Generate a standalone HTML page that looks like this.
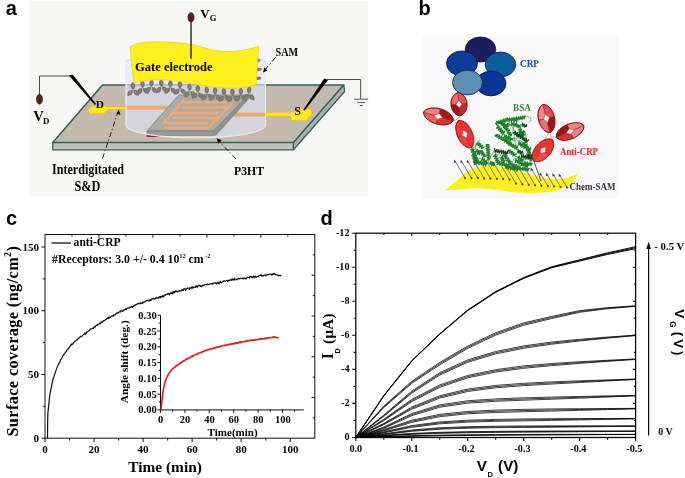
<!DOCTYPE html><html><head><meta charset="utf-8"><title>Figure</title>
<style>html,body{margin:0;padding:0;background:#fff}svg{display:block}</style></head><body>
<svg width="685" height="478" viewBox="0 0 685 478">
<defs><filter id="bl" x="-5%" y="-5%" width="110%" height="110%"><feGaussianBlur stdDeviation="0.45"/></filter><filter id="bl2" x="-5%" y="-5%" width="110%" height="110%"><feGaussianBlur stdDeviation="0.3"/></filter></defs>
<rect width="685" height="478" fill="#fff"/>
<text x="5.8" y="14.8" font-family="Liberation Sans, DejaVu Sans, sans-serif" font-weight="bold" font-size="20">a</text>
<text x="418.5" y="15.1" font-family="Liberation Sans, DejaVu Sans, sans-serif" font-weight="bold" font-size="20">b</text>
<text x="6" y="225" font-family="Liberation Sans, DejaVu Sans, sans-serif" font-weight="bold" font-size="20">c</text>
<text x="320.6" y="225.1" font-family="Liberation Sans, DejaVu Sans, sans-serif" font-weight="bold" font-size="20">d</text>
<g id="panelA">
<rect x="29.5" y="1" width="338.5" height="195.5" fill="#f7f7f5"/>
<g filter="url(#bl)">
<polygon points="102.5,85 343.8,85 293.5,142.6 52.8,142.6" fill="#c4b9ad" stroke="#33615a" stroke-width="1.5" stroke-linejoin="round"/>
<polygon points="52.8,142.6 293.5,142.6 293.5,149.8 52.8,149.8" fill="#c3c1bc" stroke="#33615a" stroke-width="1.3" stroke-linejoin="round"/>
<polygon points="293.5,142.6 343.8,85 344.6,91.5 293.5,149.8" fill="#aeaeaa" stroke="#33615a" stroke-width="1.3" stroke-linejoin="round"/>
<path d="M87.5,110.3 L91.5,106 L106,106 L106.3,106.6 L126,106.6 L126,109.6 L108,109.6 L104.5,113.8 L89,113.8 Z" fill="#ffea1a" stroke="#f3b050" stroke-width="1.1" stroke-linejoin="round"/>
<path d="M265.5,112.3 L291,112.3 L301.5,108.6 L311.2,108.6 L312.2,114 L306.5,120.8 L291,120.8 L290.5,116.3 L265.5,116.3 Z" fill="#ffea1a" stroke="#f3b050" stroke-width="1.1" stroke-linejoin="round"/>
<clipPath id="subclip"><polygon points="102.5,85 343.8,85 293.5,142.6 52.8,142.6"/></clipPath>
<path d="M126,62 L126,125 A69.7,13 0 0 0 265.5,125 L265.5,62 A69.7,9 0 0 0 126,62 Z" fill="#dfe6f2" fill-opacity="0.55"/>
<path clip-path="url(#subclip)" d="M126,62 L126,125 A69.7,13 0 0 0 265.5,125 L265.5,62 A69.7,9 0 0 0 126,62 Z" fill="#d4dae5" fill-opacity="0.5"/>
<rect x="126" y="105.7" width="42" height="3.9" fill="#f2a678"/>
<rect x="232" y="112.6" width="33.5" height="3.9" fill="#f2a678"/>
<polygon points="147,131 213.5,131 248.4,95 178.9,95" fill="#b0aaa3" stroke="#808783" stroke-width="0.9"/>
<polygon points="147,131 213.5,131 213.5,135.4 147,135.4" fill="#999d98" stroke="#7c847f" stroke-width="0.8"/>
<polygon points="213.5,131 248.4,95 250.9,96.5 215.8,135.4 213.5,135.4" fill="#8d938e" stroke="#7c847f" stroke-width="0.5"/>
<line x1="146.5" y1="136.2" x2="158" y2="136.4" stroke="#7a1028" stroke-width="1.3"/>
<path d="M181.9,102.3 L227.3,102.3 M183.2,107.6 L228.2,107.6 M172.4,113 L217,113 M174,118 L218.1,118 M163.6,123 L207.3,123 M165.2,128 L208.4,128 M163.6,123 L183.9,100 M208.4,128 L231.2,104.5" fill="none" stroke="#f3a870" stroke-width="2.4" stroke-linecap="round" opacity="0.92"/>
<path d="M126,62 L126,125 A69.7,13 0 0 0 265.5,125 L265.5,62" fill="none" stroke="#e6ebf3" stroke-width="1.2"/>
<path d="M126,62 A69.7,9 0 0 1 265.5,62" fill="none" stroke="#c5cedb" stroke-width="0.8"/>
<g transform="translate(132.8,82) rotate(-1.8) scale(1.0)"><g transform="translate(0,3.9) rotate(0)"><path d="M0,-4.1 Q4.7,0 0,4.1 Q-4.7,0 0,-4.1 Z" fill="#727977"/><path d="M0,-2.05 Q2,0 0,2.05 Q-2,0 0,-2.05 Z" fill="#b07552"/></g><g transform="translate(-3.1,10.8) rotate(42)"><path d="M0,-4.1 Q4.7,0 0,4.1 Q-4.7,0 0,-4.1 Z" fill="#727977"/><path d="M0,-2.05 Q2,0 0,2.05 Q-2,0 0,-2.05 Z" fill="#b07552"/></g><g transform="translate(3.1,10.8) rotate(-42)"><path d="M0,-4.1 Q4.7,0 0,4.1 Q-4.7,0 0,-4.1 Z" fill="#727977"/><path d="M0,-2.05 Q2,0 0,2.05 Q-2,0 0,-2.05 Z" fill="#b07552"/></g></g>
<g transform="translate(142.2,80.22) rotate(-3.5) scale(1.0)"><g transform="translate(0,3.9) rotate(0)"><path d="M0,-4.1 Q4.7,0 0,4.1 Q-4.7,0 0,-4.1 Z" fill="#727977"/><path d="M0,-2.05 Q2,0 0,2.05 Q-2,0 0,-2.05 Z" fill="#b07552"/></g><g transform="translate(-3.1,10.8) rotate(42)"><path d="M0,-4.1 Q4.7,0 0,4.1 Q-4.7,0 0,-4.1 Z" fill="#727977"/><path d="M0,-2.05 Q2,0 0,2.05 Q-2,0 0,-2.05 Z" fill="#b07552"/></g><g transform="translate(3.1,10.8) rotate(-42)"><path d="M0,-4.1 Q4.7,0 0,4.1 Q-4.7,0 0,-4.1 Z" fill="#727977"/><path d="M0,-2.05 Q2,0 0,2.05 Q-2,0 0,-2.05 Z" fill="#b07552"/></g></g>
<g transform="translate(151.6,79.12) rotate(1.5) scale(1.0)"><g transform="translate(0,3.9) rotate(0)"><path d="M0,-4.1 Q4.7,0 0,4.1 Q-4.7,0 0,-4.1 Z" fill="#727977"/><path d="M0,-2.05 Q2,0 0,2.05 Q-2,0 0,-2.05 Z" fill="#b07552"/></g><g transform="translate(-3.1,10.8) rotate(42)"><path d="M0,-4.1 Q4.7,0 0,4.1 Q-4.7,0 0,-4.1 Z" fill="#727977"/><path d="M0,-2.05 Q2,0 0,2.05 Q-2,0 0,-2.05 Z" fill="#b07552"/></g><g transform="translate(3.1,10.8) rotate(-42)"><path d="M0,-4.1 Q4.7,0 0,4.1 Q-4.7,0 0,-4.1 Z" fill="#727977"/><path d="M0,-2.05 Q2,0 0,2.05 Q-2,0 0,-2.05 Z" fill="#b07552"/></g></g>
<g transform="translate(161,78.9) rotate(-4.3) scale(1.0)"><g transform="translate(0,3.9) rotate(0)"><path d="M0,-4.1 Q4.7,0 0,4.1 Q-4.7,0 0,-4.1 Z" fill="#727977"/><path d="M0,-2.05 Q2,0 0,2.05 Q-2,0 0,-2.05 Z" fill="#b07552"/></g><g transform="translate(-3.1,10.8) rotate(42)"><path d="M0,-4.1 Q4.7,0 0,4.1 Q-4.7,0 0,-4.1 Z" fill="#727977"/><path d="M0,-2.05 Q2,0 0,2.05 Q-2,0 0,-2.05 Z" fill="#b07552"/></g><g transform="translate(3.1,10.8) rotate(-42)"><path d="M0,-4.1 Q4.7,0 0,4.1 Q-4.7,0 0,-4.1 Z" fill="#727977"/><path d="M0,-2.05 Q2,0 0,2.05 Q-2,0 0,-2.05 Z" fill="#b07552"/></g></g>
<g transform="translate(170.4,79.84) rotate(0.4) scale(1.0)"><g transform="translate(0,3.9) rotate(0)"><path d="M0,-4.1 Q4.7,0 0,4.1 Q-4.7,0 0,-4.1 Z" fill="#727977"/><path d="M0,-2.05 Q2,0 0,2.05 Q-2,0 0,-2.05 Z" fill="#b07552"/></g><g transform="translate(-3.1,10.8) rotate(42)"><path d="M0,-4.1 Q4.7,0 0,4.1 Q-4.7,0 0,-4.1 Z" fill="#727977"/><path d="M0,-2.05 Q2,0 0,2.05 Q-2,0 0,-2.05 Z" fill="#b07552"/></g><g transform="translate(3.1,10.8) rotate(-42)"><path d="M0,-4.1 Q4.7,0 0,4.1 Q-4.7,0 0,-4.1 Z" fill="#727977"/><path d="M0,-2.05 Q2,0 0,2.05 Q-2,0 0,-2.05 Z" fill="#b07552"/></g></g>
<g transform="translate(179.8,80.78) rotate(-1.3) scale(1.0)"><g transform="translate(0,3.9) rotate(0)"><path d="M0,-4.1 Q4.7,0 0,4.1 Q-4.7,0 0,-4.1 Z" fill="#727977"/><path d="M0,-2.05 Q2,0 0,2.05 Q-2,0 0,-2.05 Z" fill="#b07552"/></g><g transform="translate(-3.1,10.8) rotate(42)"><path d="M0,-4.1 Q4.7,0 0,4.1 Q-4.7,0 0,-4.1 Z" fill="#727977"/><path d="M0,-2.05 Q2,0 0,2.05 Q-2,0 0,-2.05 Z" fill="#b07552"/></g><g transform="translate(3.1,10.8) rotate(-42)"><path d="M0,-4.1 Q4.7,0 0,4.1 Q-4.7,0 0,-4.1 Z" fill="#727977"/><path d="M0,-2.05 Q2,0 0,2.05 Q-2,0 0,-2.05 Z" fill="#b07552"/></g></g>
<g transform="translate(189.2,83.24) rotate(-4.4) scale(1.0)"><g transform="translate(0,3.9) rotate(0)"><path d="M0,-4.1 Q4.7,0 0,4.1 Q-4.7,0 0,-4.1 Z" fill="#727977"/><path d="M0,-2.05 Q2,0 0,2.05 Q-2,0 0,-2.05 Z" fill="#b07552"/></g><g transform="translate(-3.1,10.8) rotate(42)"><path d="M0,-4.1 Q4.7,0 0,4.1 Q-4.7,0 0,-4.1 Z" fill="#727977"/><path d="M0,-2.05 Q2,0 0,2.05 Q-2,0 0,-2.05 Z" fill="#b07552"/></g><g transform="translate(3.1,10.8) rotate(-42)"><path d="M0,-4.1 Q4.7,0 0,4.1 Q-4.7,0 0,-4.1 Z" fill="#727977"/><path d="M0,-2.05 Q2,0 0,2.05 Q-2,0 0,-2.05 Z" fill="#b07552"/></g></g>
<g transform="translate(197.8,84.74) rotate(0.1) scale(1.0)"><g transform="translate(0,3.9) rotate(0)"><path d="M0,-4.1 Q4.7,0 0,4.1 Q-4.7,0 0,-4.1 Z" fill="#727977"/><path d="M0,-2.05 Q2,0 0,2.05 Q-2,0 0,-2.05 Z" fill="#b07552"/></g><g transform="translate(-3.1,10.8) rotate(42)"><path d="M0,-4.1 Q4.7,0 0,4.1 Q-4.7,0 0,-4.1 Z" fill="#727977"/><path d="M0,-2.05 Q2,0 0,2.05 Q-2,0 0,-2.05 Z" fill="#b07552"/></g><g transform="translate(3.1,10.8) rotate(-42)"><path d="M0,-4.1 Q4.7,0 0,4.1 Q-4.7,0 0,-4.1 Z" fill="#727977"/><path d="M0,-2.05 Q2,0 0,2.05 Q-2,0 0,-2.05 Z" fill="#b07552"/></g></g>
<g transform="translate(206.4,86.12) rotate(-4.6) scale(1.0)"><g transform="translate(0,3.9) rotate(0)"><path d="M0,-4.1 Q4.7,0 0,4.1 Q-4.7,0 0,-4.1 Z" fill="#727977"/><path d="M0,-2.05 Q2,0 0,2.05 Q-2,0 0,-2.05 Z" fill="#b07552"/></g><g transform="translate(-3.1,10.8) rotate(42)"><path d="M0,-4.1 Q4.7,0 0,4.1 Q-4.7,0 0,-4.1 Z" fill="#727977"/><path d="M0,-2.05 Q2,0 0,2.05 Q-2,0 0,-2.05 Z" fill="#b07552"/></g><g transform="translate(3.1,10.8) rotate(-42)"><path d="M0,-4.1 Q4.7,0 0,4.1 Q-4.7,0 0,-4.1 Z" fill="#727977"/><path d="M0,-2.05 Q2,0 0,2.05 Q-2,0 0,-2.05 Z" fill="#b07552"/></g></g>
<g transform="translate(215,86.88) rotate(-0.7) scale(1.0)"><g transform="translate(0,3.9) rotate(0)"><path d="M0,-4.1 Q4.7,0 0,4.1 Q-4.7,0 0,-4.1 Z" fill="#727977"/><path d="M0,-2.05 Q2,0 0,2.05 Q-2,0 0,-2.05 Z" fill="#b07552"/></g><g transform="translate(-3.1,10.8) rotate(42)"><path d="M0,-4.1 Q4.7,0 0,4.1 Q-4.7,0 0,-4.1 Z" fill="#727977"/><path d="M0,-2.05 Q2,0 0,2.05 Q-2,0 0,-2.05 Z" fill="#b07552"/></g><g transform="translate(3.1,10.8) rotate(-42)"><path d="M0,-4.1 Q4.7,0 0,4.1 Q-4.7,0 0,-4.1 Z" fill="#727977"/><path d="M0,-2.05 Q2,0 0,2.05 Q-2,0 0,-2.05 Z" fill="#b07552"/></g></g>
<g transform="translate(223.6,87.64) rotate(-4.3) scale(1.0)"><g transform="translate(0,3.9) rotate(0)"><path d="M0,-4.1 Q4.7,0 0,4.1 Q-4.7,0 0,-4.1 Z" fill="#727977"/><path d="M0,-2.05 Q2,0 0,2.05 Q-2,0 0,-2.05 Z" fill="#b07552"/></g><g transform="translate(-3.1,10.8) rotate(42)"><path d="M0,-4.1 Q4.7,0 0,4.1 Q-4.7,0 0,-4.1 Z" fill="#727977"/><path d="M0,-2.05 Q2,0 0,2.05 Q-2,0 0,-2.05 Z" fill="#b07552"/></g><g transform="translate(3.1,10.8) rotate(-42)"><path d="M0,-4.1 Q4.7,0 0,4.1 Q-4.7,0 0,-4.1 Z" fill="#727977"/><path d="M0,-2.05 Q2,0 0,2.05 Q-2,0 0,-2.05 Z" fill="#b07552"/></g></g>
<g transform="translate(232.2,88.05) rotate(-4.1) scale(1.0)"><g transform="translate(0,3.9) rotate(0)"><path d="M0,-4.1 Q4.7,0 0,4.1 Q-4.7,0 0,-4.1 Z" fill="#727977"/><path d="M0,-2.05 Q2,0 0,2.05 Q-2,0 0,-2.05 Z" fill="#b07552"/></g><g transform="translate(-3.1,10.8) rotate(42)"><path d="M0,-4.1 Q4.7,0 0,4.1 Q-4.7,0 0,-4.1 Z" fill="#727977"/><path d="M0,-2.05 Q2,0 0,2.05 Q-2,0 0,-2.05 Z" fill="#b07552"/></g><g transform="translate(3.1,10.8) rotate(-42)"><path d="M0,-4.1 Q4.7,0 0,4.1 Q-4.7,0 0,-4.1 Z" fill="#727977"/><path d="M0,-2.05 Q2,0 0,2.05 Q-2,0 0,-2.05 Z" fill="#b07552"/></g></g>
<g transform="translate(240.8,87.48) rotate(-0.8) scale(1.0)"><g transform="translate(0,3.9) rotate(0)"><path d="M0,-4.1 Q4.7,0 0,4.1 Q-4.7,0 0,-4.1 Z" fill="#727977"/><path d="M0,-2.05 Q2,0 0,2.05 Q-2,0 0,-2.05 Z" fill="#b07552"/></g><g transform="translate(-3.1,10.8) rotate(42)"><path d="M0,-4.1 Q4.7,0 0,4.1 Q-4.7,0 0,-4.1 Z" fill="#727977"/><path d="M0,-2.05 Q2,0 0,2.05 Q-2,0 0,-2.05 Z" fill="#b07552"/></g><g transform="translate(3.1,10.8) rotate(-42)"><path d="M0,-4.1 Q4.7,0 0,4.1 Q-4.7,0 0,-4.1 Z" fill="#727977"/><path d="M0,-2.05 Q2,0 0,2.05 Q-2,0 0,-2.05 Z" fill="#b07552"/></g></g>
<g transform="translate(249.4,86.32) rotate(3.3) scale(1.0)"><g transform="translate(0,3.9) rotate(0)"><path d="M0,-4.1 Q4.7,0 0,4.1 Q-4.7,0 0,-4.1 Z" fill="#727977"/><path d="M0,-2.05 Q2,0 0,2.05 Q-2,0 0,-2.05 Z" fill="#b07552"/></g><g transform="translate(-3.1,10.8) rotate(42)"><path d="M0,-4.1 Q4.7,0 0,4.1 Q-4.7,0 0,-4.1 Z" fill="#727977"/><path d="M0,-2.05 Q2,0 0,2.05 Q-2,0 0,-2.05 Z" fill="#b07552"/></g><g transform="translate(3.1,10.8) rotate(-42)"><path d="M0,-4.1 Q4.7,0 0,4.1 Q-4.7,0 0,-4.1 Z" fill="#727977"/><path d="M0,-2.05 Q2,0 0,2.05 Q-2,0 0,-2.05 Z" fill="#b07552"/></g></g>
<g transform="translate(260.5,60) rotate(75) scale(0.75)"><g transform="translate(0,3.9) rotate(0)"><path d="M0,-4.1 Q4.7,0 0,4.1 Q-4.7,0 0,-4.1 Z" fill="#727977"/><path d="M0,-2.05 Q2,0 0,2.05 Q-2,0 0,-2.05 Z" fill="#b07552"/></g><g transform="translate(-3.1,10.8) rotate(42)"><path d="M0,-4.1 Q4.7,0 0,4.1 Q-4.7,0 0,-4.1 Z" fill="#727977"/><path d="M0,-2.05 Q2,0 0,2.05 Q-2,0 0,-2.05 Z" fill="#b07552"/></g><g transform="translate(3.1,10.8) rotate(-42)"><path d="M0,-4.1 Q4.7,0 0,4.1 Q-4.7,0 0,-4.1 Z" fill="#727977"/><path d="M0,-2.05 Q2,0 0,2.05 Q-2,0 0,-2.05 Z" fill="#b07552"/></g></g>
<g transform="translate(262,69) rotate(80) scale(0.75)"><g transform="translate(0,3.9) rotate(0)"><path d="M0,-4.1 Q4.7,0 0,4.1 Q-4.7,0 0,-4.1 Z" fill="#727977"/><path d="M0,-2.05 Q2,0 0,2.05 Q-2,0 0,-2.05 Z" fill="#b07552"/></g><g transform="translate(-3.1,10.8) rotate(42)"><path d="M0,-4.1 Q4.7,0 0,4.1 Q-4.7,0 0,-4.1 Z" fill="#727977"/><path d="M0,-2.05 Q2,0 0,2.05 Q-2,0 0,-2.05 Z" fill="#b07552"/></g><g transform="translate(3.1,10.8) rotate(-42)"><path d="M0,-4.1 Q4.7,0 0,4.1 Q-4.7,0 0,-4.1 Z" fill="#727977"/><path d="M0,-2.05 Q2,0 0,2.05 Q-2,0 0,-2.05 Z" fill="#b07552"/></g></g>
<g transform="translate(261.5,78) rotate(85) scale(0.75)"><g transform="translate(0,3.9) rotate(0)"><path d="M0,-4.1 Q4.7,0 0,4.1 Q-4.7,0 0,-4.1 Z" fill="#727977"/><path d="M0,-2.05 Q2,0 0,2.05 Q-2,0 0,-2.05 Z" fill="#b07552"/></g><g transform="translate(-3.1,10.8) rotate(42)"><path d="M0,-4.1 Q4.7,0 0,4.1 Q-4.7,0 0,-4.1 Z" fill="#727977"/><path d="M0,-2.05 Q2,0 0,2.05 Q-2,0 0,-2.05 Z" fill="#b07552"/></g><g transform="translate(3.1,10.8) rotate(-42)"><path d="M0,-4.1 Q4.7,0 0,4.1 Q-4.7,0 0,-4.1 Z" fill="#727977"/><path d="M0,-2.05 Q2,0 0,2.05 Q-2,0 0,-2.05 Z" fill="#b07552"/></g></g>
<path d="M130,47 C136,43.5 142,42 150,42 C165,41.5 180,42.5 192,44.5 C205,47.5 212,50.6 222,51.4 C236,52 248,49.8 258.8,46.2 C257.7,58 256.9,72 256.2,84.5 C248,87.5 238,88.6 228,88.2 C212,87.5 198,85 185,82.5 C172,80 160,79.3 150,80.2 C143,80.9 138,82 134,83.2 C132.3,71 131,59 130,47 Z" fill="#fdf01c" stroke="#f0c820" stroke-width="0.7"/>
<line x1="191" y1="21" x2="191" y2="58.7" stroke="#151515" stroke-width="1.3"/>
<ellipse cx="191" cy="17.3" rx="3" ry="4.6" fill="#5a1f1a" stroke="#2a0d0a" stroke-width="0.6"/>
<path d="M39.5,95 L39.5,76 L70,76" fill="none" stroke="#4a4a4a" stroke-width="1"/>
<ellipse cx="39.5" cy="99.3" rx="3" ry="5" fill="#5a1f1a" stroke="#2a0d0a" stroke-width="0.6"/>
<polygon points="68.8,75.2 72.8,74.8 96,104 94.8,105" fill="#000"/>
<polygon points="324.2,78.6 328,80 304.6,110.8 303.2,110" fill="#000"/>
<path d="M326,79.5 L360.7,79.5 L360.7,99" fill="none" stroke="#4a4a4a" stroke-width="1"/>
<path d="M354,99.2 L368.3,99.2 M357.3,102.6 L365,102.6 M359.8,105.5 L362.8,105.5" fill="none" stroke="#4a5e5a" stroke-width="1"/>
<g fill="none" stroke="#222" stroke-width="1" stroke-dasharray="5.5 2.2 1.3 2.2">
<line x1="102.5" y1="158.5" x2="118" y2="112"/>
<line x1="236" y1="159" x2="218.5" y2="140.5"/>
<line x1="275.5" y1="57.5" x2="264.5" y2="70.5"/>
</g>
<g fill="#111">
<polygon points="118.8,109.5 120.5,115 116.3,113.6"/>
<polygon points="216.5,138.3 221.8,140.3 218.3,143.4"/>
<polygon points="263,72.5 264.3,67.6 267.6,70.6"/>
</g>
<text x="200.3" y="17.6" font-family="Liberation Serif, DejaVu Serif, serif" font-weight="bold" font-size="13">V</text><text x="209.8" y="21.2" font-family="Liberation Serif, DejaVu Serif, serif" font-weight="bold" font-size="8.5">G</text>
<text x="33.2" y="120.6" font-family="Liberation Serif, DejaVu Serif, serif" font-weight="bold" font-size="14.5">V</text><text x="43" y="124.2" font-family="Liberation Serif, DejaVu Serif, serif" font-weight="bold" font-size="8.8">D</text>
<text x="135" y="71.3" font-family="Liberation Serif, DejaVu Serif, serif" font-weight="bold" font-size="13" textLength="77.5" lengthAdjust="spacingAndGlyphs">Gate electrode</text>
<text x="275.5" y="55.7" font-family="Liberation Serif, DejaVu Serif, serif" font-weight="bold" font-size="11.5" textLength="22.5" lengthAdjust="spacingAndGlyphs">SAM</text>
<text x="95.8" y="108.3" font-family="Liberation Serif, DejaVu Serif, serif" font-weight="bold" font-size="11.3">D</text>
<text x="294.2" y="114.9" font-family="Liberation Serif, DejaVu Serif, serif" font-weight="bold" font-size="12">S</text>
<text x="52" y="174" font-family="Liberation Serif, DejaVu Serif, serif" font-weight="bold" font-size="13.6" textLength="72" lengthAdjust="spacingAndGlyphs">Interdigitated</text>
<text x="74.5" y="191" font-family="Liberation Serif, DejaVu Serif, serif" font-weight="bold" font-size="13.6" textLength="26" lengthAdjust="spacingAndGlyphs">S&amp;D</text>
<text x="234" y="175.4" font-family="Liberation Serif, DejaVu Serif, serif" font-weight="bold" font-size="12.8" textLength="30" lengthAdjust="spacingAndGlyphs">P3HT</text>
</g></g>
<g id="panelB">
<rect x="423" y="36" width="195.3" height="162" fill="#f8f8f8"/>
<g filter="url(#bl)">
<path d="M444.8,190.3 C450,186.5 454,183 457.6,180 C461,176.5 464.5,173.5 468.6,171 C473,168 478,166.6 483.2,166.2 C488,165.8 493,165.8 497.8,166.3 C505,167.2 512.5,169 519.8,171.2 C526,173 532,175 538.1,176.6 C543,177.9 548,179 552.8,179.3 C558,179.5 563,178.8 567.4,177.5 C571.5,176.4 575,175.2 578.4,173.6 C576.5,177.5 574,181 571,183.7 C568,186.3 564.5,188 560,189.4 C555.5,190.8 550.5,191.7 545.4,192.2 C539.5,192.8 533,193 527,192.9 C520.5,192.8 514,192.2 508,191.4 C502,190.6 496,189.6 490,189 C484,188.4 478,188.2 472,188.4 C466,188.7 460.5,189.3 455,189.8 C451.5,190.1 448,190.3 444.8,190.3 Z" fill="#fdee1e"/>
<line x1="465" y1="178" x2="455" y2="161" stroke="#5c5068" stroke-width="0.75"/>
<circle cx="465" cy="178" r="1.1" fill="#5a3c6a"/>
<polygon points="454.3,159.6 456.5,162.2 454,162.9" fill="#453a52"/>
<line x1="471.4" y1="178.1" x2="461.4" y2="161.1" stroke="#5c5068" stroke-width="0.75"/>
<circle cx="471.4" cy="178.1" r="1.1" fill="#5a3c6a"/>
<polygon points="460.7,159.7 462.9,162.3 460.4,163" fill="#453a52"/>
<line x1="477.8" y1="178.2" x2="467.8" y2="161.2" stroke="#5c5068" stroke-width="0.75"/>
<circle cx="477.8" cy="178.2" r="1.1" fill="#5a3c6a"/>
<polygon points="467.1,159.8 469.2,162.4 466.8,163.1" fill="#453a52"/>
<line x1="484.1" y1="178.4" x2="474.1" y2="161.4" stroke="#5c5068" stroke-width="0.75"/>
<circle cx="484.1" cy="178.4" r="1.1" fill="#5a3c6a"/>
<polygon points="473.4,160 475.6,162.6 473.1,163.3" fill="#453a52"/>
<line x1="490.5" y1="178.6" x2="480.5" y2="161.6" stroke="#5c5068" stroke-width="0.75"/>
<circle cx="490.5" cy="178.6" r="1.1" fill="#5a3c6a"/>
<polygon points="479.8,160.2 482,162.8 479.5,163.5" fill="#453a52"/>
<line x1="496.9" y1="178.9" x2="486.9" y2="161.9" stroke="#5c5068" stroke-width="0.75"/>
<circle cx="496.9" cy="178.9" r="1.1" fill="#5a3c6a"/>
<polygon points="486.2,160.5 488.4,163.1 485.9,163.8" fill="#453a52"/>
<line x1="503.2" y1="179.2" x2="493.2" y2="162.2" stroke="#5c5068" stroke-width="0.75"/>
<circle cx="503.2" cy="179.2" r="1.1" fill="#5a3c6a"/>
<polygon points="492.6,160.8 494.8,163.4 492.2,164.1" fill="#453a52"/>
<line x1="509.6" y1="179.7" x2="499.6" y2="162.7" stroke="#5c5068" stroke-width="0.75"/>
<circle cx="509.6" cy="179.7" r="1.1" fill="#5a3c6a"/>
<polygon points="498.9,161.3 501.1,163.9 498.6,164.6" fill="#453a52"/>
<line x1="516" y1="183.7" x2="506" y2="166.7" stroke="#5c5068" stroke-width="0.75"/>
<circle cx="516" cy="183.7" r="1.1" fill="#5a3c6a"/>
<polygon points="505.3,165.3 507.5,167.9 505,168.6" fill="#453a52"/>
<line x1="522.4" y1="184.3" x2="512.4" y2="167.3" stroke="#5c5068" stroke-width="0.75"/>
<circle cx="522.4" cy="184.3" r="1.1" fill="#5a3c6a"/>
<polygon points="511.7,165.9 513.9,168.5 511.4,169.2" fill="#453a52"/>
<line x1="528.8" y1="184.8" x2="518.8" y2="167.8" stroke="#5c5068" stroke-width="0.75"/>
<circle cx="528.8" cy="184.8" r="1.1" fill="#5a3c6a"/>
<polygon points="518,166.4 520.2,169 517.8,169.7" fill="#453a52"/>
<line x1="535.1" y1="185.3" x2="525.1" y2="168.3" stroke="#5c5068" stroke-width="0.75"/>
<circle cx="535.1" cy="185.3" r="1.1" fill="#5a3c6a"/>
<polygon points="524.4,166.9 526.6,169.5 524.1,170.2" fill="#453a52"/>
<line x1="541.5" y1="185.8" x2="531.5" y2="168.8" stroke="#5c5068" stroke-width="0.75"/>
<circle cx="541.5" cy="185.8" r="1.1" fill="#5a3c6a"/>
<polygon points="530.8,167.4 533,170 530.5,170.7" fill="#453a52"/>
<line x1="547.9" y1="186.2" x2="540.5" y2="173.7" stroke="#5c5068" stroke-width="0.75"/>
<circle cx="547.9" cy="186.2" r="1.1" fill="#5a3c6a"/>
<polygon points="539.8,172.3 542,174.9 539.5,175.6" fill="#453a52"/>
<line x1="554.2" y1="186.6" x2="546.9" y2="174.1" stroke="#5c5068" stroke-width="0.75"/>
<circle cx="554.2" cy="186.6" r="1.1" fill="#5a3c6a"/>
<polygon points="546.2,172.7 548.4,175.3 545.9,176" fill="#453a52"/>
<line x1="560.6" y1="187" x2="553.3" y2="174.5" stroke="#5c5068" stroke-width="0.75"/>
<circle cx="560.6" cy="187" r="1.1" fill="#5a3c6a"/>
<polygon points="552.6,173.1 554.8,175.7 552.3,176.4" fill="#453a52"/>
<line x1="567" y1="187.4" x2="559.6" y2="174.9" stroke="#5c5068" stroke-width="0.75"/>
<circle cx="567" cy="187.4" r="1.1" fill="#5a3c6a"/>
<polygon points="558.9,173.5 561.1,176.1 558.6,176.8" fill="#453a52"/>
<path d="M456.7,119.7 L453.3,120.6 M456.7,119.7 L460,115.8 M456.7,119.7 L458.5,120.6 M453.5,120.8 L457.5,124.5" stroke="#a9a0a0" stroke-width="0.7" fill="none"/>
<g transform="translate(459,104.2) rotate(-4.9)"><path d="M0,-11.69 C-5.33,-10.41 -8,-5.2 -8,0 L0,0 Z" fill="#e86a6a" stroke="#8a1414" stroke-width="0.45" stroke-linejoin="round"/><path d="M0,-11.69 C5.33,-10.41 8,-5.2 8,0 L0,0 Z" fill="#e25555" stroke="#8a1414" stroke-width="0.45" stroke-linejoin="round"/><path d="M0,11.69 C-5.33,10.41 -8,5.2 -8,0 L0,0 Z" fill="#9c1515" stroke="#8a1414" stroke-width="0.45" stroke-linejoin="round"/><path d="M0,11.69 C5.33,10.41 8,5.2 8,0 L0,0 Z" fill="#c42a2a" stroke="#8a1414" stroke-width="0.45" stroke-linejoin="round"/><path d="M0,-11.69 C10.67,-9.12 10.67,9.12 0,11.69 C-10.67,9.12 -10.67,-9.12 0,-11.69 Z" fill="none" stroke="#8a1414" stroke-width="0.9"/><polygon points="0,-3.51 3.2,0 0,3.51 -3.2,0" fill="#fdf3f3" stroke="#8a1414" stroke-width="0.4"/></g>
<g transform="translate(438.4,116.4) rotate(-74.3)"><path d="M0,-15.53 C-5.17,-13.82 -7.75,-6.91 -7.75,0 L0,0 Z" fill="#e86060" stroke="#8a1414" stroke-width="0.45" stroke-linejoin="round"/><path d="M0,-15.53 C5.17,-13.82 7.75,-6.91 7.75,0 L0,0 Z" fill="#f08080" stroke="#8a1414" stroke-width="0.45" stroke-linejoin="round"/><path d="M0,15.53 C-5.17,13.82 -7.75,6.91 -7.75,0 L0,0 Z" fill="#d83030" stroke="#8a1414" stroke-width="0.45" stroke-linejoin="round"/><path d="M0,15.53 C5.17,13.82 7.75,6.91 7.75,0 L0,0 Z" fill="#a81818" stroke="#8a1414" stroke-width="0.45" stroke-linejoin="round"/><path d="M0,-15.53 C10.33,-12.11 10.33,12.11 0,15.53 C-10.33,12.11 -10.33,-12.11 0,-15.53 Z" fill="none" stroke="#8a1414" stroke-width="0.9"/><polygon points="0,-4.66 3.1,0 0,4.66 -3.1,0" fill="#fdf3f3" stroke="#8a1414" stroke-width="0.4"/></g>
<g transform="translate(464.8,134.2) rotate(155.4)"><path d="M0,-15.01 C-5,-13.36 -7.5,-6.68 -7.5,0 L0,0 Z" fill="#ee3535" stroke="#b01818" stroke-width="0.45" stroke-linejoin="round"/><path d="M0,-15.01 C5,-13.36 7.5,-6.68 7.5,0 L0,0 Z" fill="#f03c3c" stroke="#b01818" stroke-width="0.45" stroke-linejoin="round"/><path d="M0,15.01 C-5,13.36 -7.5,6.68 -7.5,0 L0,0 Z" fill="#ec3030" stroke="#b01818" stroke-width="0.45" stroke-linejoin="round"/><path d="M0,15.01 C5,13.36 7.5,6.68 7.5,0 L0,0 Z" fill="#ee3838" stroke="#b01818" stroke-width="0.45" stroke-linejoin="round"/><path d="M0,-15.01 C10,-11.71 10,11.71 0,15.01 C-10,11.71 -10,-11.71 0,-15.01 Z" fill="none" stroke="#b01818" stroke-width="0.9"/><polygon points="0,-4.5 3,0 0,4.5 -3,0" fill="#fdf3f3" stroke="#b01818" stroke-width="0.4"/></g>
<path d="M550.9,136.6 L550.1,132.7 M550.9,136.6 L556.4,137.4 M550.9,136.6 L552.5,139.7 M549,132 L545,139.5" stroke="#a9a0a0" stroke-width="0.7" fill="none"/>
<g transform="translate(546.5,118.5) rotate(-14.1)"><path d="M0,-14.59 C-5.33,-12.98 -8,-6.49 -8,0 L0,0 Z" fill="#f08585" stroke="#8a1414" stroke-width="0.45" stroke-linejoin="round"/><path d="M0,-14.59 C5.33,-12.98 8,-6.49 8,0 L0,0 Z" fill="#e05050" stroke="#8a1414" stroke-width="0.45" stroke-linejoin="round"/><path d="M0,14.59 C-5.33,12.98 -8,6.49 -8,0 L0,0 Z" fill="#ea7070" stroke="#8a1414" stroke-width="0.45" stroke-linejoin="round"/><path d="M0,14.59 C5.33,12.98 8,6.49 8,0 L0,0 Z" fill="#9a1515" stroke="#8a1414" stroke-width="0.45" stroke-linejoin="round"/><path d="M0,-14.59 C10.67,-11.38 10.67,11.38 0,14.59 C-10.67,11.38 -10.67,-11.38 0,-14.59 Z" fill="none" stroke="#8a1414" stroke-width="0.9"/><polygon points="0,-4.38 3.2,0 0,4.38 -3.2,0" fill="#fdf3f3" stroke="#8a1414" stroke-width="0.4"/></g>
<g transform="translate(570.1,131.5) rotate(66.8)"><path d="M0,-14.96 C-5,-13.32 -7.5,-6.66 -7.5,0 L0,0 Z" fill="#f08888" stroke="#8a1414" stroke-width="0.45" stroke-linejoin="round"/><path d="M0,-14.96 C5,-13.32 7.5,-6.66 7.5,0 L0,0 Z" fill="#ee8080" stroke="#8a1414" stroke-width="0.45" stroke-linejoin="round"/><path d="M0,14.96 C-5,13.32 -7.5,6.66 -7.5,0 L0,0 Z" fill="#9a1515" stroke="#8a1414" stroke-width="0.45" stroke-linejoin="round"/><path d="M0,14.96 C5,13.32 7.5,6.66 7.5,0 L0,0 Z" fill="#d83030" stroke="#8a1414" stroke-width="0.45" stroke-linejoin="round"/><path d="M0,-14.96 C10,-11.67 10,11.67 0,14.96 C-10,11.67 -10,-11.67 0,-14.96 Z" fill="none" stroke="#8a1414" stroke-width="0.9"/><polygon points="0,-4.49 3,0 0,4.49 -3,0" fill="#fdf3f3" stroke="#8a1414" stroke-width="0.4"/></g>
<g transform="translate(543,150.3) rotate(-138.3)"><path d="M0,-14.2 C-5.17,-12.64 -7.75,-6.32 -7.75,0 L0,0 Z" fill="#f04848" stroke="#b01818" stroke-width="0.45" stroke-linejoin="round"/><path d="M0,-14.2 C5.17,-12.64 7.75,-6.32 7.75,0 L0,0 Z" fill="#ee3030" stroke="#b01818" stroke-width="0.45" stroke-linejoin="round"/><path d="M0,14.2 C-5.17,12.64 -7.75,6.32 -7.75,0 L0,0 Z" fill="#ee3535" stroke="#b01818" stroke-width="0.45" stroke-linejoin="round"/><path d="M0,14.2 C5.17,12.64 7.75,6.32 7.75,0 L0,0 Z" fill="#ec3030" stroke="#b01818" stroke-width="0.45" stroke-linejoin="round"/><path d="M0,-14.2 C10.33,-11.08 10.33,11.08 0,14.2 C-10.33,11.08 -10.33,-11.08 0,-14.2 Z" fill="none" stroke="#b01818" stroke-width="0.9"/><polygon points="0,-4.26 3.1,0 0,4.26 -3.1,0" fill="#fdf3f3" stroke="#b01818" stroke-width="0.4"/></g>
<line x1="533.8" y1="161" x2="541" y2="181" stroke="#4a3c56" stroke-width="0.9"/>
<ellipse cx="480.5" cy="49.5" rx="15.3" ry="12.6" fill="#1f1a60" stroke="#14144a" stroke-width="0.8"/>
<ellipse cx="462" cy="63.5" rx="15.5" ry="12.6" fill="#0c3c98" stroke="#14144a" stroke-width="0.8"/>
<ellipse cx="500.5" cy="64.5" rx="15.3" ry="12.4" fill="#0d5c9c" stroke="#14144a" stroke-width="0.8"/>
<ellipse cx="491" cy="83.5" rx="15" ry="12.4" fill="#0a3496" stroke="#14144a" stroke-width="0.8"/>
<ellipse cx="467.5" cy="82.5" rx="15" ry="12.4" fill="#5c8fb4" stroke="#14144a" stroke-width="0.8"/>
<path d="M508.3,119.2 Q504.5,116.8 508.3,119.9 M504.1,133.9 Q504.5,127.7 503.4,123.4 M511.1,136.1 Q515.9,125.2 511.1,123.4 M510.4,143.8 Q505.8,139.6 508.3,143.1 M518.1,148.7 Q514.1,143.4 513.9,131.8 M527.9,141.7 Q519.8,143.2 518.1,143.1 M477.4,161.3 Q473,149.2 477.4,143.1 M483,148 Q487.1,145.4 487.5,144.2 M488.9,160.2 Q479.9,161.9 474.6,162 M487.2,164.4 Q490.3,155.4 494.3,150.5 M508.3,153.2 Q504.4,155.9 494.5,154.6 M498.7,164.1 Q498.9,160.1 504.1,154.6 M511.1,164.1 Q505.2,167.3 498.7,163 M509.7,165.8 Q516,156.4 517.8,151.2 M522.6,153.2 Q526.5,150.7 520.9,156 M530.7,157.9 Q522.2,161.6 515.3,160.2 M527.9,166.9 Q522.3,164.8 523.7,163 M532.1,164.4 Q517,166.1 511.1,164.4 M509.7,123.4 Q515.1,130.7 516.7,136.1 M525.1,131.8 Q527.3,140.5 527.9,150.1 M504.1,125.5 Q508,124.7 512.5,120.6 M518.1,118.5 Q514.4,125.8 519.5,129 M523.7,136.1 Q515.4,141 504.1,136.1 M512.5,140.3 Q521.3,139.5 523.7,143.1 M480.2,154.3 Q472,153.9 473.2,154.3 M476,164.1 Q475.5,157.5 481.6,158.5 M485.8,162.7 Q483.5,165.4 490.1,162.7 M494.3,165.5 Q494.1,158.8 501.3,157.1 M504.1,162.7 Q505.1,160.1 508.3,150.1 M515.3,155.7 Q512.5,155.9 518.1,157.1 M523.7,161.3 Q525.6,162.3 526.5,155.7 M518.1,169.7 Q517.3,168.2 520.9,168.3 M525.8,117 q3,-1.5 5,1 q1,3 -2,5 M480,140 q-4,2 -6,8" fill="none" stroke="#3c8f48" stroke-width="0.7"/>
<path d="M495.6,123.2 L496.8,124.9 L496.7,122.8 L496.8,121.2 L498.2,123.4 L499,123.9 L498.7,121.2 L499.3,121 L500.7,123.3 L501,122.4 L500.8,119.9 L501.8,121.1 L503.1,122.9 L503,120.7 L503.1,119.1 L504.4,121.3 L505.2,121.8 L505,119.1 L505.5,118.9 L507,121.3 L507.3,120.4 L507.1,117.8 L508.1,119 M508.2,119.5 L509.2,121.6 L509.4,119.6 L509.8,117.9 L510.8,120.2 L511.5,121 L511.7,118.3 L512.2,118 L513.2,120.6 L513.8,119.9 L513.9,117.3 L514.7,118.5 L515.7,120.6 L516,118.6 L516.3,116.9 L517.3,119.1 L518,120 L518.2,117.3 L518.7,117 L519.8,119.5 L520.3,118.9 L520.5,116.3 L521.3,117.4 L522.2,119.5 L522.5,117.5 L522.8,115.8 L523.8,118.1 L524.5,118.9 L524.7,116.2 L525.3,115.9 M498,125.3 L498.2,126 L496.7,128.2 L497.9,127.9 L500,126.8 L499.1,128.4 L498.2,130.1 L500.2,129 L501.5,128.7 L500,130.8 L500.1,131.6 L502.5,130.2 L502.7,130.9 L501.1,133.1 L502.3,132.8 L504.4,131.7 L503.6,133.3 L502.6,135 M504.5,122.7 L504.5,123.4 L502.6,125.3 L503.9,125.2 L506.1,124.5 L504.9,126 L503.7,127.4 L506,126.7 L507.3,126.7 L505.3,128.6 L505.4,129.3 L508,128.3 L507.9,129.1 L506,130.9 L507.3,130.9 L509.6,130.2 L508.4,131.6 L507.2,133.1 L509.5,132.4 L510.7,132.3 L508.8,134.2 L508.8,134.9 L511.4,134 L511.4,134.7 L509.5,136.6 M511.5,122.2 L512,122.7 L511.7,125.3 L512.6,124.6 L513.9,122.6 L513.9,124.4 L513.9,126.3 L515.2,124.4 L516.2,123.5 L515.9,126.1 L516.3,126.8 L517.7,124.4 L518.2,124.9 L517.9,127.6 L518.8,126.8 L520.2,124.8 L520.2,126.6 L520.1,128.5 M495.3,135.2 L495.4,136.3 L497.3,134.3 L497.8,134.6 L496.9,137.2 L497.8,136.9 L499.6,135.1 L499.4,136.6 L498.8,138.7 L500.4,137.3 L501.7,136.3 L500.9,138.7 L501,139.7 L502.9,137.8 L503.4,138 L502.5,140.6 L503.4,140.4 L505.2,138.6 L505,140.1 L504.4,142.2 L506,140.8 L507.3,139.8 L506.5,142.2 L506.6,143.2 L508.5,141.3 L509.1,141.5 L508.1,144.1 L509,143.8 L510.8,142 M507.9,143.7 L509.7,141.9 L509.5,143.4 L509,145.5 L510.5,144 L511.7,143 L511,145.5 L511.2,146.5 L513,144.4 L513.6,144.7 L512.7,147.3 L513.6,147 L515.4,145.1 L515.2,146.7 L514.7,148.8 L516.2,147.3 L517.5,146.3 L516.8,148.8 L516.9,149.7 M519,141.5 L518.7,143.3 L518.3,145.2 L519.9,143.6 L521,142.8 L520.3,145.3 L520.6,146.1 L522.4,144 L522.8,144.5 L522,147.1 L523.1,146.5 L524.7,144.7 L524.4,146.5 L524,148.4 L525.6,146.8 L526.8,146 L526.1,148.5 L526.3,149.3 L528.2,147.2 L528.6,147.7 L527.8,150.3 L528.8,149.7 L530.5,147.9 L530.2,149.7 L529.8,151.6 M473.1,148.1 L470.8,149.8 L471.4,150.2 L474,149.7 L473.3,150.6 L471.4,152.1 L473.2,152 L475.2,151.8 L473.3,153.3 L472.5,154.3 L475.1,153.8 L475.8,154.1 L473.5,155.8 L474.1,156.2 L476.7,155.7 L476,156.7 L474.1,158.2 L475.9,158 L477.8,157.8 L476,159.3 L475.2,160.3 L477.8,159.8 L478.4,160.2 L476.2,161.8 M476.3,144.3 L478.4,142.8 L479.3,142.8 L477.9,145.2 L478.5,145.5 L480.7,143.9 L480.6,145 L479.4,147.2 L480.9,146.3 L482.7,145.3 L481.7,147.3 L481.3,148.7 L483.4,147.2 M486.1,144.3 L488.8,144.7 L488.7,145.3 L486.1,146.1 L487.1,146.6 L489.5,147 L488,147.8 L486.1,148.5 L488.3,148.9 L489.7,149.4 L487.2,150.2 L486.7,150.9 L489.4,151.2 L489.3,151.9 L486.7,152.7 L487.7,153.2 L490.1,153.6 L488.5,154.3 L486.7,155.1 L488.9,155.5 L490.3,156 L487.8,156.8 L487.2,157.5 L490,157.8 L489.9,158.4 L487.3,159.3 L488.3,159.8 M474.5,162.9 L474.9,163.5 L476,161 L476.6,161.3 L476.7,164 L477.5,163.2 L478.5,160.9 L478.8,162.7 L479,164.7 L480,162.6 L480.8,161.5 L480.9,164.1 L481.4,164.7 L482.5,162.2 L483.1,162.5 L483.2,165.2 L483.9,164.4 L485,162.2 L485.3,163.9 L485.5,165.9 L486.5,163.8 L487.3,162.7 M495.7,154 L495.7,154.7 L493.5,156.3 L494.7,156.4 L497.1,156 L495.8,157.3 L494.4,158.6 L496.6,158.2 L498,158.3 L495.9,159.9 L495.7,160.6 L498.4,160.1 L498.4,160.7 L496.2,162.4 L497.4,162.5 L499.8,162.1 L498.5,163.3 L497,164.6 M502.7,155.6 L505.1,154.5 L505.9,154.7 L504.1,156.8 L504.6,157.1 L507.1,156 L506.7,157.1 L505.1,159 L506.8,158.5 L508.7,157.9 L507.3,159.6 L506.6,160.9 L509.1,159.8 L509.8,160 L508,162.1 L508.6,162.4 L511,161.4 L510.6,162.4 L509.1,164.3 L510.8,163.8 M498.6,163.7 L499.8,161.5 L500,163 L500,165.2 L501.1,163.3 L502.1,162.1 L502,164.6 L502.4,165.5 L503.7,163 L504.3,163.2 L504.2,165.9 L505,165.3 L506.2,163.1 L506.4,164.7 L506.4,166.8 L507.5,165 L508.5,163.7 L508.4,166.3 L508.8,167.1 M516.1,158.6 L515.7,160.7 L515.5,162.3 L517.2,160.4 L518.1,160 L517.4,162.6 L517.9,162.9 L519.7,160.8 L519.9,161.8 L519.2,164.2 L520.5,163.2 L522,161.7 L521.5,163.8 L521.4,165.4 L523.1,163.5 L524,163.1 L523.2,165.7 L523.7,166 L525.5,163.9 L525.7,164.9 L525.1,167.3 L526.3,166.3 L527.8,164.8 L527.4,166.9 M523.6,163.6 L524,164.6 L525.1,162.1 L525.7,162.1 L525.8,164.8 L526.5,164.3 L527.5,161.9 L527.9,163.3 L528.2,165.5 L529.1,163.7 L529.9,162.2 L530.1,164.7 L530.6,165.7 L531.6,163.2 L532.2,163.1 M511.4,163.7 L512.2,163.3 L511.7,166 L512.3,166.1 L513.9,163.9 L514.1,164.9 L513.7,167.4 L514.9,166.2 L516.2,164.6 L515.9,166.8 L515.9,168.3 L517.5,166.3 L518.3,165.9 L517.8,168.6 L518.4,168.7 L520,166.5 L520.2,167.5 L519.8,170 M479.7,150.4 L479.3,151.5 L481.8,150.5 L482.3,150.8 L480.4,152.9 L481.2,153 L483.7,152.1 L483,153.3 L481.5,155 L483.4,154.4 L485.1,154 L483.5,155.8 L483.1,156.9 L485.6,155.9 L486.1,156.2 M504.7,128.4 L503.6,126 L504.7,126.5 L506.6,128 L506,126.2 L505.4,124.4 L507.2,125.9 L508.4,126.4 L507.3,124 L507.6,123.3 L509.7,125.1 L510,124.5 M516.1,134.8 L517.8,137 L518.2,136.4 L517.6,133.8 L518.6,134.5 L520.2,136.3 L519.9,134.5 L519.7,132.6 L521.2,134.3 L522.3,135.1 L521.6,132.5 L522,131.9 L523.7,134 L524.1,133.4 L523.5,130.8 L524.5,131.6 M526.3,150.7 L528.6,150.4 L529.9,150.6 L527.6,152.1 L527.5,152.8 L530.3,152.4 L530.1,153.1 L527.8,154.6 L529.2,154.7 L531.5,154.5 L530,155.7 L528.6,156.9 L531,156.6 L532.2,156.8 L529.9,158.3 L529.8,159 L532.6,158.6 L532.4,159.3 L530.2,160.8 L531.5,160.9 M500.9,120.3 L500.9,121.1 L499.5,123.4 L500.9,122.9 L502.8,121.8 L501.9,123.5 L501.2,125.1 L503.3,123.8 L504.4,123.6 L502.9,125.9 M512,119.3 L512.7,119.5 L514.2,121.7 L514.3,120.4 L514.1,118.1 L515.3,119.6 L516.5,121 L516.2,118.7 L516.4,117.4 L517.9,119.7 M518.3,129.8 L519,130 L521.5,129.2 L520.8,130.3 L519.2,132 L521.1,131.6 L522.9,131.2 L521.2,132.9 L520.6,134 L523.2,133.1 L523.7,133.5 L521.7,135.4 L522.4,135.7 L524.9,134.9 M504.7,134.8 L504,137.5 L504.7,137.5 L506.4,135.4 L506.5,136.7 L506,139 L507.3,137.7 L508.6,136.3 L508.2,138.6 L508.2,139.9 L509.9,137.9 L510.6,137.8 L509.9,140.5 L510.6,140.4 L512.3,138.4 L512.4,139.6 M522.9,143.7 L525.4,142.6 L524.9,143.7 L523.4,145.6 L525.1,145 L526.9,144.4 L525.5,146.2 L524.9,147.4 L527.3,146.3 L528.1,146.6 L526.2,148.7 L526.9,148.9 M477,149.1 L477.1,149.9 L475.7,152.1 L477,151.6 L479,150.5 L478.1,152.3 L477.3,153.9 L479.4,152.6 L480.5,152.4 L479.1,154.7 M474.8,153.8 L473.9,154.7 L471.8,155.9 L473.7,156 L475.6,156.1 L473.6,157.3 L472.6,158.2 L475.3,158.1 L475.9,158.5 L473.4,159.8 L473.9,160.3 L476.6,160.2 L475.7,161.1 L473.7,162.3 L475.5,162.4 L477.4,162.4 L475.4,163.6 L474.4,164.5 M482.7,157.5 L482.7,158.3 L481.3,160.5 L482.6,160 L484.6,158.9 L483.7,160.7 L482.9,162.3 L485,161 L486.1,160.8 L484.7,163.1 M490.9,161.5 L489.9,164.1 L490.4,164.3 L492.4,162.4 L492.4,163.5 L491.6,165.8 L493,164.8 L494.5,163.5 L493.8,165.7 M502,156.7 L502.9,157 L500.7,158.7 L501.1,159.2 L503.7,158.5 L503.2,159.5 L501.3,161.1 L503,160.9 L505,160.6 L503.4,162.1 L502.4,163.2 M508.6,149.7 L507.6,151.8 L509.3,150.8 L510.8,149.8 L509.8,152 L509.6,153.2 L511.7,151.5 L512.4,151.7 L511.2,154.2 L511.9,154.2 L514,152.5 L513.7,153.8 L512.8,156 L514.4,154.9 L516,153.9 M517.5,157.9 L519.6,156.1 L519.4,157.4 L518.5,159.6 L520,158.6 L521.6,157.5 L520.7,159.6 L520.5,160.9 L522.5,159.2 L523.2,159.2 L522.1,161.8 L522.8,161.8 M506.6,168.2 L507.8,165.7 L508.3,166.3 L508.2,169 L509.1,167.9 L510.2,165.9 L510.4,167.9 L510.5,169.6 L511.7,167.5 L512.5,166.7 L512.4,169.4 L513,169.8 L514.2,167.3 L514.7,167.9 L514.6,170.6 L515.5,169.5 L516.6,167.5 L516.8,169.5 L516.9,171.2 L518.1,169.1 M520.8,169 L521.2,169.9 L522.3,167.4 L522.9,167.4 L523,170.2 L523.7,169.6 L524.7,167.2 L525.1,168.7 L525.3,170.9 L526.3,169 L527.1,167.6 L527.3,170.1 L527.8,171 L528.8,168.5 L529.4,168.5" fill="none" stroke="#1d8029" stroke-width="1.3" stroke-linejoin="round" stroke-linecap="round"/>
<path d="M513.2,132.8 L513.7,133.2 L515.7,131.3 L515.8,132.2 L514.9,134.6 L516.2,133.8 L517.9,132.4 L517.2,134.4 L516.8,136 L518.7,134.4 L519.7,134 L518.6,136.6 L519.1,137 L521.1,135.1 L521.2,136 L520.3,138.4 L521.6,137.6 L523.3,136.2 L522.6,138.2 L522.2,139.8 L524.1,138.2 L525.1,137.8 L524.1,140.3 L524.5,140.8 L526.5,138.9 L526.6,139.8 L525.7,142.2 L527,141.4 L528.7,140 M522.6,123.1 L522.2,125.8 L522.6,126.2 L524.2,123.9 L524.6,124.7 L524.2,127.2 L525.2,126.3 L526.6,124.5 L526.4,126.5 M494.6,148.7 L494.8,150.9 L495.1,152.4 L496.2,150 L496.9,149.5 L497,152.3 L497.6,152.3 L498.7,149.8 L499.1,150.7 L499.2,153.2 L500.1,151.8 L501.1,150 L501.3,152.2 L501.6,153.6 L502.7,151.3 L503.4,150.7 L503.5,153.5 L504.1,153.5 L505.2,151 L505.6,151.9 L505.7,154.4 L506.6,153 L507.6,151.2 L507.8,153.4 M518.4,149.7 L518,152.4 L518.4,152.8 L520,150.6 L520.4,151.3 L520,153.9 L521,152.9 L522.4,151.1 L522.2,153.1 M521.3,154.2 L521.5,156.1 L521.7,158 L522.8,155.9 L523.6,154.8 L523.7,157.5 L524.2,158 L525.3,155.5 L525.8,155.9 L525.9,158.6 L526.7,157.7 L527.7,155.5 L528,157.3 L528.2,159.2 L529.2,157.1 L530.1,156.1 L530.1,158.8 M526.9,154.1 L527.2,155.4 L527.2,157.7 L528.3,156.1 L529.3,154.5 L529.3,156.9 L529.6,158.1 L530.8,155.7 L531.5,155.6 L531.4,158.3" fill="none" stroke="#153f1f" stroke-width="1.2" stroke-linejoin="round" stroke-linecap="round"/>
<text x="520" y="67" font-family="Liberation Serif, DejaVu Serif, serif" font-weight="bold" font-size="9.5" fill="#1d4a8c" textLength="19" lengthAdjust="spacingAndGlyphs">CRP</text>
<text x="513" y="110.6" font-family="Liberation Serif, DejaVu Serif, serif" font-weight="bold" font-size="9.5" fill="#2f8f35" textLength="18" lengthAdjust="spacingAndGlyphs">BSA</text>
<text x="560" y="154.8" font-family="Liberation Serif, DejaVu Serif, serif" font-weight="bold" font-size="9.5" fill="#d62222" textLength="38" lengthAdjust="spacingAndGlyphs">Anti-CRP</text>
<text x="569.6" y="190" font-family="Liberation Serif, DejaVu Serif, serif" font-weight="bold" font-size="9.5" fill="#3c3048" textLength="46" lengthAdjust="spacingAndGlyphs">Chem-SAM</text>
</g></g>
<g id="panelC" filter="url(#bl2)">
<rect x="45.0" y="234.5" width="269.8" height="203.7" fill="none" stroke="#111" stroke-width="1"/>
<path d="M45,438.2 v4 M69.5,438.2 v2.4 M94.1,438.2 v4 M118.6,438.2 v2.4 M143.1,438.2 v4 M167.7,438.2 v2.4 M192.2,438.2 v4 M216.7,438.2 v2.4 M241.2,438.2 v4 M265.8,438.2 v2.4 M290.3,438.2 v4 M72,234.5 v2 M99,234.5 v3.2 M125.9,234.5 v2 M152.9,234.5 v3.2 M179.9,234.5 v2 M206.9,234.5 v3.2 M233.9,234.5 v2 M260.8,234.5 v3.2 M287.8,234.5 v2 M45.0,438.2 h-3.6 M45.0,406.3 h-2.2 M45.0,374.5 h-3.6 M45.0,342.6 h-2.2 M45.0,310.7 h-3.6 M45.0,278.9 h-2.2 M45.0,247 h-3.6 M314.8,417.8 h-2 M314.8,397.5 h-3.2 M314.8,377.1 h-2 M314.8,356.7 h-3.2 M314.8,336.4 h-2 M314.8,316 h-3.2 M314.8,295.6 h-2 M314.8,275.2 h-3.2 M314.8,254.9 h-2" stroke="#111" stroke-width="1" fill="none"/>
<text x="45" y="453" text-anchor="middle" font-family="Liberation Serif, DejaVu Serif, serif" font-weight="bold" font-size="11">0</text>
<text x="94.1" y="453" text-anchor="middle" font-family="Liberation Serif, DejaVu Serif, serif" font-weight="bold" font-size="11">20</text>
<text x="143.1" y="453" text-anchor="middle" font-family="Liberation Serif, DejaVu Serif, serif" font-weight="bold" font-size="11">40</text>
<text x="192.2" y="453" text-anchor="middle" font-family="Liberation Serif, DejaVu Serif, serif" font-weight="bold" font-size="11">60</text>
<text x="241.2" y="453" text-anchor="middle" font-family="Liberation Serif, DejaVu Serif, serif" font-weight="bold" font-size="11">80</text>
<text x="290.3" y="453" text-anchor="middle" font-family="Liberation Serif, DejaVu Serif, serif" font-weight="bold" font-size="11">100</text>
<text x="38.9" y="441.9" text-anchor="end" font-family="Liberation Serif, DejaVu Serif, serif" font-weight="bold" font-size="11">0</text>
<text x="38.9" y="378.2" text-anchor="end" font-family="Liberation Serif, DejaVu Serif, serif" font-weight="bold" font-size="11">50</text>
<text x="38.9" y="314.4" text-anchor="end" font-family="Liberation Serif, DejaVu Serif, serif" font-weight="bold" font-size="11">100</text>
<text x="38.9" y="250.7" text-anchor="end" font-family="Liberation Serif, DejaVu Serif, serif" font-weight="bold" font-size="11">150</text>
<text x="128.3" y="471.6" font-family="Liberation Serif, DejaVu Serif, serif" font-weight="bold" font-size="14.5" textLength="73.5" lengthAdjust="spacingAndGlyphs">Time (min)</text>
<text transform="translate(17.6,436.6) rotate(-90)" font-family="Liberation Serif, DejaVu Serif, serif" font-weight="bold" font-size="16.3" textLength="190.5" lengthAdjust="spacing">Surface coverage (ng/cm<tspan font-size="10" dy="-6.5">2</tspan><tspan dy="6.5">)</tspan></text>
<path d="M47.5,438.2 L47.7,418.7 L47.9,412.8 L48.2,410.4 L48.4,408 L48.7,405.5 L48.9,403.1 L49.2,400.7 L49.4,398.3 L49.7,395.9 L49.9,394.4 L50.2,393.2 L50.4,391.9 L50.6,390.7 L50.9,389.5 L51.1,388.3 L51.4,387 L51.6,385.8 L51.9,384.6 L52.1,383.4 L52.4,382.1 L52.6,380.9 L52.8,379.8 L53.1,379.1 L53.3,378.4 L53.6,377.6 L53.8,376.9 L54.1,376.2 L54.3,375.5 L54.6,374.7 L54.8,374 L55.1,373.3 L55.3,372.6 L55.5,371.9 L55.8,371.1 L56,370.4 L56.3,369.7 L56.5,369 L56.8,368.2 L57,367.5 L57.3,366.8 L57.5,366.2 L57.8,365.7 L58,365.3 L58.2,364.8 L58.5,364.4 L58.7,363.9 L59,363.4 L59.2,363 L59.5,362.5 L59.7,362 L60,362.1 L60.5,359.9 L61,359.3 L61.6,358.6 L62.1,357.4 L62.7,356.2 L63.2,355.4 L63.7,354.3 L64.3,354.3 L64.8,353.5 L65.4,352.2 L65.9,351.8 L66.4,351.5 L67,350 L67.5,349.1 L68.1,349.1 L68.6,348.8 L69.1,347.6 L69.7,346.9 L70.2,346.2 L70.8,344.8 L71.3,345.2 L71.8,343.8 L72.4,344.3 L72.9,343.7 L73.5,342.7 L74,342 L74.5,341.7 L75.1,341.4 L75.6,341 L76.2,340.6 L76.7,339.9 L77.2,339.8 L77.8,339.1 L78.3,338.6 L78.9,338.3 L79.4,337.6 L79.9,337.3 L80.5,336.3 L81,336.6 L81.5,336.5 L82.1,336 L82.6,335.5 L83.2,334.7 L83.7,334.8 L84.2,334.1 L84.8,333.1 L85.3,334.4 L85.9,333.4 L86.4,332.5 L86.9,332 L87.5,331.7 L88,331.5 L88.6,330.7 L89.1,330.5 L89.6,330.4 L90.2,328.8 L90.7,329.2 L91.3,329.2 L91.8,328.7 L92.3,328.4 L92.9,328 L93.4,328.6 L94,327.4 L94.5,326.5 L95,327 L95.6,326.2 L96.1,325.4 L96.7,325.1 L97.2,324.5 L97.7,325.4 L98.3,324.5 L98.8,324.1 L99.4,323.4 L99.9,322.9 L100.4,323.9 L101,322.1 L101.5,322.8 L102.1,321.6 L102.6,322.1 L103.1,321.2 L103.7,320.5 L104.2,320.7 L104.8,320.2 L105.3,319.7 L105.8,319.6 L106.4,319.4 L106.9,318.5 L107.5,318.3 L108,318.5 L108.5,317.1 L109.1,318.3 L109.6,317.2 L110.2,317.3 L110.7,316.8 L111.2,316.3 L111.8,316.2 L112.3,315.7 L112.8,316.2 L113.4,315.9 L113.9,314.8 L114.5,315.1 L115,314.8 L115.5,314.6 L116.1,313.3 L116.6,313.2 L117.2,312.6 L117.7,313.2 L118.2,312.6 L118.8,312.8 L119.3,311.9 L119.9,311.3 L120.4,312 L120.9,310.8 L121.5,310.8 L122,311 L122.6,311.5 L123.1,310 L123.6,310.3 L124.2,310.2 L124.7,309.6 L125.3,309.4 L125.8,308.7 L126.3,309.5 L126.9,308.4 L127.4,308 L128,307.8 L128.5,308.2 L129,308.2 L129.6,307.3 L130.1,307.4 L130.7,307.1 L131.2,306.4 L131.7,306.8 L132.3,307.3 L132.8,306.4 L133.4,306.7 L133.9,305.4 L134.4,305.4 L135,305.5 L135.5,305 L136.1,304.5 L136.6,304.5 L137.1,303.8 L137.7,304.2 L138.2,303.6 L138.8,303.2 L139.3,303 L139.8,303.7 L140.4,302.9 L140.9,303.8 L141.5,303.3 L142,303.5 L142.5,302.1 L143.1,302.8 L143.6,302.2 L144.2,302.1 L144.7,301.8 L145.2,301.9 L145.8,301.3 L146.3,300.3 L146.8,301 L147.4,300.6 L147.9,300.1 L148.5,300.6 L149,301 L149.5,300.4 L150.1,299.4 L150.6,300.6 L151.2,299.9 L151.7,298.9 L152.2,298.8 L152.8,299 L153.3,298.4 L153.9,298.6 L154.4,299.1 L154.9,299.1 L155.5,298.5 L156,297.4 L156.6,298.1 L157.1,298.1 L157.6,297.9 L158.2,298.1 L158.7,297.2 L159.3,297.6 L159.8,296.6 L160.3,297.9 L160.9,296.3 L161.4,296.6 L162,297.2 L162.5,295.6 L163,295.9 L163.6,296.8 L164.1,295.9 L164.7,295.1 L165.2,295.4 L165.7,294.6 L166.3,294.4 L166.8,294.3 L167.4,294.3 L167.9,293.6 L168.4,293.8 L169,293.7 L169.5,294.9 L170.1,293.2 L170.6,292.8 L171.1,293.5 L171.7,293.4 L172.2,292 L172.8,293.8 L173.3,292.4 L173.8,291.2 L174.4,292.8 L174.9,291.8 L175.5,291 L176,291.9 L176.5,291.4 L177.1,291.1 L177.6,291.9 L178.1,291.4 L178.7,291 L179.2,290.6 L179.8,290.9 L180.3,290.8 L180.8,291.1 L181.4,290.7 L181.9,289.8 L182.5,290.1 L183,290.5 L183.5,290.4 L184.1,288.3 L184.6,289 L185.2,289.1 L185.7,290.7 L186.2,288.9 L186.8,288.8 L187.3,288 L187.9,288.6 L188.4,288.7 L188.9,288.2 L189.5,289.4 L190,287.7 L190.6,287.9 L191.1,288.3 L191.6,287.1 L192.2,286.7 L192.7,288.3 L193.3,287.7 L193.8,287.1 L194.3,287 L194.9,287.2 L195.4,287.4 L196,285.6 L196.5,286.1 L197,287.2 L197.6,287.2 L198.1,285.4 L198.7,285.7 L199.2,285.1 L199.7,285.6 L200.3,286.4 L200.8,285.7 L201.4,286.8 L201.9,286 L202.4,285.5 L203,285.1 L203.5,285.7 L204.1,285.2 L204.6,284.8 L205.1,284.7 L205.7,284.5 L206.2,284.6 L206.8,284.8 L207.3,284.1 L207.8,284.4 L208.4,284.7 L208.9,284.5 L209.4,284.1 L210,284 L210.5,283.8 L211.1,283.8 L211.6,283.6 L212.1,283.7 L212.7,284.2 L213.2,283.2 L213.8,282.8 L214.3,283 L214.8,283.2 L215.4,282.8 L215.9,283.5 L216.5,283.9 L217,282.7 L217.5,283.2 L218.1,282.2 L218.6,283 L219.2,283.8 L219.7,282.8 L220.2,281.3 L220.8,282.3 L221.3,282.7 L221.9,282.3 L222.4,281.5 L222.9,281.4 L223.5,281.5 L224,280.7 L224.6,281 L225.1,281.3 L225.6,280.9 L226.2,280.3 L226.7,280.5 L227.3,280.4 L227.8,281.4 L228.3,280.8 L228.9,280.3 L229.4,280.7 L230,279.9 L230.5,280.1 L231,279.8 L231.6,280.3 L232.1,278.8 L232.7,279.4 L233.2,280.1 L233.7,279.8 L234.3,278.4 L234.8,279.9 L235.4,279.1 L235.9,279 L236.4,279.4 L237,279.9 L237.5,279.1 L238.1,278.9 L238.6,278.4 L239.1,278.5 L239.7,278.9 L240.2,278.3 L240.7,278.4 L241.3,278.5 L241.8,278.5 L242.4,278.6 L242.9,278 L243.4,278.8 L244,278.5 L244.5,278.1 L245.1,278.8 L245.6,278.2 L246.1,278.9 L246.7,278.1 L247.2,277.4 L247.8,277.3 L248.3,277.5 L248.8,277.5 L249.4,278.1 L249.9,276.3 L250.5,276.9 L251,276.5 L251.5,277.5 L252.1,277 L252.6,277.8 L253.2,276.3 L253.7,276.2 L254.2,277.6 L254.8,276.5 L255.3,276.1 L255.9,277.3 L256.4,277.2 L256.9,276.7 L257.5,276.4 L258,276.8 L258.6,275.9 L259.1,275.7 L259.6,275.4 L260.2,275.3 L260.7,274.8 L261.3,274.9 L261.8,276.2 L262.3,275.7 L262.9,275.9 L263.4,275.8 L264,275.2 L264.5,275.1 L265,274.8 L265.6,275.8 L266.1,275.5 L266.7,274.8 L267.2,274.8 L267.7,274.8 L268.3,274.5 L268.8,274.8 L269.4,274 L269.9,274 L270.4,274.2 L271,274.4 L271.5,274.1 L272,275.3 L272.6,274.3 L273.1,273.7 L273.7,274.4 L274.2,273.4 L274.7,273.7 L275.3,274.8 L275.8,274.6 L276.4,274.9 L276.9,274.8 L277.4,274.8 L278,275.3 L278.5,275.8 L279.1,275.6 L279.6,275.6 L280.1,275.3 L280.7,275.7 L281.2,276.3" fill="none" stroke="#0c0c0c" stroke-width="1.2" stroke-linejoin="round"/>
<line x1="51.5" y1="243" x2="71" y2="243" stroke="#111" stroke-width="1.3"/>
<text x="73.6" y="246.2" font-family="Liberation Serif, DejaVu Serif, serif" font-weight="bold" font-size="12" textLength="47" lengthAdjust="spacingAndGlyphs">anti-CRP</text>
<text x="52" y="263.2" font-family="Liberation Serif, DejaVu Serif, serif" font-weight="bold" font-size="11.8">#Receptors: 3.0 +/- 0.4 10<tspan font-size="6.3" dy="-5.6">12</tspan><tspan dy="5.6"> cm</tspan><tspan font-size="6.3" dy="-5.6"> -2</tspan></text>
<path d="M160.5,315.2 L160.5,409.9 L303.8,409.9" fill="none" stroke="#111" stroke-width="1"/>
<path d="M160.5,409.9 v3 M172.7,409.9 v1.8 M184.9,409.9 v3 M197.1,409.9 v1.8 M209.3,409.9 v3 M221.5,409.9 v1.8 M233.7,409.9 v3 M245.9,409.9 v1.8 M258.1,409.9 v3 M270.3,409.9 v1.8 M282.5,409.9 v3 M294.7,409.9 v1.8 M160.5,409.9 h-3 M160.5,402 h-1.8 M160.5,394.1 h-3 M160.5,386.2 h-1.8 M160.5,378.3 h-3 M160.5,370.4 h-1.8 M160.5,362.6 h-3 M160.5,354.7 h-1.8 M160.5,346.8 h-3 M160.5,338.9 h-1.8 M160.5,331 h-3 M160.5,323.1 h-1.8 M160.5,315.2 h-3" stroke="#111" stroke-width="1" fill="none"/>
<text x="160.5" y="423.2" text-anchor="middle" font-family="Liberation Serif, DejaVu Serif, serif" font-weight="bold" font-size="10.5">0</text>
<text x="184.9" y="423.2" text-anchor="middle" font-family="Liberation Serif, DejaVu Serif, serif" font-weight="bold" font-size="10.5">20</text>
<text x="209.4" y="423.2" text-anchor="middle" font-family="Liberation Serif, DejaVu Serif, serif" font-weight="bold" font-size="10.5">40</text>
<text x="233.8" y="423.2" text-anchor="middle" font-family="Liberation Serif, DejaVu Serif, serif" font-weight="bold" font-size="10.5">60</text>
<text x="258.3" y="423.2" text-anchor="middle" font-family="Liberation Serif, DejaVu Serif, serif" font-weight="bold" font-size="10.5">80</text>
<text x="282.8" y="423.2" text-anchor="middle" font-family="Liberation Serif, DejaVu Serif, serif" font-weight="bold" font-size="10.5">100</text>
<text x="156.7" y="413.4" text-anchor="end" font-family="Liberation Serif, DejaVu Serif, serif" font-weight="bold" font-size="10.5">0.00</text>
<text x="156.7" y="397.6" text-anchor="end" font-family="Liberation Serif, DejaVu Serif, serif" font-weight="bold" font-size="10.5">0.05</text>
<text x="156.7" y="381.8" text-anchor="end" font-family="Liberation Serif, DejaVu Serif, serif" font-weight="bold" font-size="10.5">0.10</text>
<text x="156.7" y="366.1" text-anchor="end" font-family="Liberation Serif, DejaVu Serif, serif" font-weight="bold" font-size="10.5">0.15</text>
<text x="156.7" y="350.3" text-anchor="end" font-family="Liberation Serif, DejaVu Serif, serif" font-weight="bold" font-size="10.5">0.20</text>
<text x="156.7" y="334.5" text-anchor="end" font-family="Liberation Serif, DejaVu Serif, serif" font-weight="bold" font-size="10.5">0.25</text>
<text x="156.7" y="318.7" text-anchor="end" font-family="Liberation Serif, DejaVu Serif, serif" font-weight="bold" font-size="10.5">0.30</text>
<text x="207.6" y="435.8" font-family="Liberation Serif, DejaVu Serif, serif" font-weight="bold" font-size="10.5" textLength="50" lengthAdjust="spacingAndGlyphs">Time(min)</text>
<text transform="translate(128.3,403.3) rotate(-90)" font-family="Liberation Serif, DejaVu Serif, serif" font-weight="bold" font-size="10.5" textLength="83" lengthAdjust="spacingAndGlyphs">Angle shift (deg.)</text>
<path d="M161.1,409.9 L161.4,406.4 L161.7,403 L162,400 L162.3,397 L162.6,394.9 L162.9,392.8 L163.2,390.8 L163.5,388.7 L163.8,387.1 L164.1,385.9 L164.4,384.6 L164.7,383.3 L165,382 L165.3,381.1 L165.6,380.7 L165.9,379.8 L166.2,379 L166.5,378.2 L166.8,377.5 L167.1,376.9 L167.4,376.2 L167.7,375.6 L168,375 L168.3,374.5 L168.6,374 L168.9,373.5 L169.2,373 L169.5,372.6 L169.8,372.2 L170.1,371.8 L170.4,371.4 L170.7,371.1 L171,370.7 L171.3,370.4 L171.6,370.1 L171.9,369.8 L172.2,369.2 L172.5,369.1 L172.8,368.7 L173.1,368.4 L173.4,368.3 L173.7,367.9 L174,367.8 L174.3,367.6 L174.6,367.2 L174.9,367.4 L175.2,366.7 L175.5,366.7 L175.8,366.3 L176.1,366.2 L176.4,365.3 L176.7,365.4 L177,365.3 L177.3,365.2 L177.6,365.3 L177.9,364.7 L178.2,364.7 L178.5,364.4 L178.8,364.2 L179.1,363.9 L179.4,363.6 L179.7,363.5 L180,363 L180.3,363.2 L180.6,362.6 L180.9,362.6 L181.2,362.8 L181.5,362.2 L181.8,362 L182.1,362 L182.4,361.6 L182.7,361.3 L183,361.3 L183.3,361.2 L183.6,361 L183.9,360.6 L184.2,360.9 L184.5,360.7 L184.8,360.2 L185.1,360.1 L185.4,359.8 L185.7,359.9 L186,359.4 L186.3,359.5 L186.6,359.1 L186.9,358.9 L187.2,359 L187.5,358.9 L187.8,358.5 L188.1,358.2 L188.4,358.3 L188.7,358 L189,357.9 L189.3,358 L189.6,357.8 L189.9,357.3 L190.2,357.7 L190.5,357.1 L190.8,357.1 L191.1,356.7 L191.4,356.6 L191.7,356.2 L192,356.7 L192.3,356.4 L192.6,355.8 L192.9,355.6 L193.2,355.5 L193.5,355.8 L193.8,355.4 L194.1,355.3 L194.4,355.2 L194.7,355.1 L195,354.7 L195.3,354.8 L195.6,354.4 L195.9,354.5 L196.2,354.4 L196.5,354.3 L196.8,354.1 L197.1,353.8 L197.4,353.9 L197.7,353.6 L198,353.9 L198.3,353.6 L198.6,353.3 L198.9,353.1 L199.2,353 L199.5,352.8 L199.8,352.8 L200.1,352.8 L200.4,352.7 L200.7,352.6 L201,352.7 L201.3,352.1 L201.6,352.1 L201.9,352.5 L202.2,351.5 L202.5,351.6 L202.8,351.6 L203.1,351.5 L203.4,351.5 L203.7,351.2 L204,351.2 L204.3,351.1 L204.6,351.1 L204.9,350.5 L205.2,350.6 L205.5,350.6 L205.8,350.4 L206.1,350.2 L206.4,350.4 L206.7,350.1 L207,350.2 L207.3,350.2 L207.6,350 L207.9,349.9 L208.2,349.7 L208.5,349.4 L208.8,349.5 L209.1,349.5 L209.4,349.2 L209.7,349.2 L210,349.3 L210.3,348.9 L210.6,349.1 L210.9,349.2 L211.2,348.7 L211.5,348.7 L211.8,348.6 L212.1,348.8 L212.4,348.5 L212.7,348.6 L213,348.2 L213.3,348.2 L213.6,348.1 L213.9,347.7 L214.2,348.2 L214.5,348.1 L214.8,347.5 L215.1,347.9 L215.4,347.6 L215.7,347.7 L216,347.6 L216.3,347.2 L216.6,347.3 L216.9,347.5 L217.2,347.1 L217.5,346.9 L217.8,346.8 L218.1,346.7 L218.4,346.9 L218.7,347.1 L219,346.8 L219.3,346.7 L219.6,346.9 L219.9,346.4 L220.2,346.3 L220.5,346.4 L220.8,346.3 L221.1,346 L221.4,345.9 L221.7,346.1 L222,346 L222.3,345.6 L222.6,345.8 L222.9,345.7 L223.2,345.8 L223.5,345.6 L223.8,345.5 L224.1,345.4 L224.4,345.6 L224.7,345.6 L225,345.3 L225.3,345.4 L225.6,345.1 L225.9,345.1 L226.2,345.2 L226.5,345.3 L226.8,344.9 L227.1,344.9 L227.4,344.9 L227.7,344.5 L228,344.7 L228.3,344.5 L228.6,344.6 L228.9,344.3 L229.2,344.1 L229.5,344.4 L229.8,344.4 L230.1,344.2 L230.4,344.4 L230.7,344.1 L231,344 L231.3,344.1 L231.6,343.7 L231.9,343.8 L232.2,343.8 L232.5,343.9 L232.8,343.7 L233.1,343.7 L233.4,343.5 L233.7,343.6 L234,343.8 L234.3,343.3 L234.6,343.8 L234.9,343.2 L235.2,343.2 L235.5,343.2 L235.8,343.3 L236.1,342.8 L236.4,342.6 L236.7,343.1 L237,343 L237.3,342.9 L237.6,343.2 L237.9,342.8 L238.2,342.7 L238.5,342.8 L238.8,342.6 L239.1,342.8 L239.4,342.2 L239.7,342.3 L240,341.7 L240.3,342.4 L240.6,342.1 L240.9,342.3 L241.2,342.5 L241.5,342 L241.8,341.9 L242.1,341.8 L242.4,341.7 L242.7,341.7 L243,341.9 L243.3,341.7 L243.6,341.6 L243.9,341.5 L244.2,341.7 L244.5,341.5 L244.8,341.4 L245.1,341.5 L245.4,341.3 L245.7,341 L246,341.4 L246.3,341.2 L246.6,340.9 L246.9,341.2 L247.2,341 L247.5,340.6 L247.8,341.1 L248.1,340.9 L248.4,340.9 L248.7,340.7 L249,340.6 L249.3,340.3 L249.6,340.7 L249.9,340.5 L250.2,340.4 L250.5,340.5 L250.8,340.4 L251.1,340.5 L251.4,340.2 L251.7,340.2 L252,339.8 L252.3,340.1 L252.6,340.3 L252.9,340.3 L253.2,340 L253.5,340 L253.8,340.3 L254.1,339.9 L254.4,340 L254.7,340.1 L255,339.8 L255.3,340 L255.6,339.6 L255.9,339.7 L256.2,339.6 L256.5,339.6 L256.8,339.8 L257.1,339.9 L257.4,339.3 L257.7,339.3 L258,339.5 L258.3,339.2 L258.6,339.4 L258.9,339.4 L259.2,339.2 L259.5,339.3 L259.8,338.9 L260.1,339.2 L260.4,338.8 L260.7,338.9 L261,338.9 L261.3,338.9 L261.6,339.1 L261.9,338.9 L262.2,338.7 L262.5,338.9 L262.8,339 L263.1,338.7 L263.4,338.7 L263.7,338.8 L264,338.6 L264.3,338.3 L264.6,338.9 L264.9,338.9 L265.2,338.1 L265.5,338.4 L265.8,338.4 L266.1,338.5 L266.4,338.4 L266.7,338.2 L267,338 L267.3,338.2 L267.6,338.3 L267.9,337.9 L268.2,337.8 L268.5,338 L268.8,337.6 L269.1,337.8 L269.4,337.8 L269.7,337.9 L270,337.6 L270.3,337.5 L270.6,337.6 L270.9,337.6 L271.2,337.4 L271.5,337.5 L271.8,337.6 L272.1,337.6 L272.4,337.7 L272.7,337.2 L273,337.2 L273.3,336.8 L273.6,337.5 L273.9,337 L274.2,337.1 L274.5,337.2 L274.8,336.9 L275.1,337.1 L275.4,337.2 L275.7,337.2 L276,337.3 L276.3,337.4 L276.6,337.5 L276.9,337.6 L277.2,337.7 L277.5,337.9 L277.8,337.9 L278.1,338 L278.4,338.1 L278.7,338.2" fill="none" stroke="#e31b1b" stroke-width="1.6" stroke-linejoin="round"/>
</g>
<g id="panelD" filter="url(#bl2)">
<rect x="355.8" y="233.2" width="279.8" height="204.3" fill="none" stroke="#111" stroke-width="1.3"/>
<path d="M355.8,437.5 v3.6 M383.8,437.5 v2.2 M383.8,233.2 v1.8 M411.8,437.5 v3.6 M411.8,233.2 v2.8 M439.7,437.5 v2.2 M439.7,233.2 v1.8 M467.7,437.5 v3.6 M467.7,233.2 v2.8 M495.7,437.5 v2.2 M495.7,233.2 v1.8 M523.7,437.5 v3.6 M523.7,233.2 v2.8 M551.7,437.5 v2.2 M551.7,233.2 v1.8 M579.6,437.5 v3.6 M579.6,233.2 v2.8 M607.6,437.5 v2.2 M607.6,233.2 v1.8 M635.6,437.5 v3.6 M355.8,437.5 h-3.6 M355.8,420.5 h-2.2 M635.6,420.5 h-1.8 M355.8,403.4 h-3.6 M635.6,403.4 h-2.8 M355.8,386.4 h-2.2 M635.6,386.4 h-1.8 M355.8,369.4 h-3.6 M635.6,369.4 h-2.8 M355.8,352.4 h-2.2 M635.6,352.4 h-1.8 M355.8,335.3 h-3.6 M635.6,335.3 h-2.8 M355.8,318.3 h-2.2 M635.6,318.3 h-1.8 M355.8,301.3 h-3.6 M635.6,301.3 h-2.8 M355.8,284.3 h-2.2 M635.6,284.3 h-1.8 M355.8,267.2 h-3.6 M635.6,267.2 h-2.8 M355.8,250.2 h-2.2 M635.6,250.2 h-1.8 M355.8,233.2 h-3.6" stroke="#111" stroke-width="1.1" fill="none"/>
<text x="355.8" y="452.3" text-anchor="middle" font-family="Liberation Serif, DejaVu Serif, serif" font-weight="bold" font-size="10.2">0.0</text>
<text x="410.6" y="452.3" text-anchor="middle" font-family="Liberation Serif, DejaVu Serif, serif" font-weight="bold" font-size="10.2">-0.1</text>
<text x="466.5" y="452.3" text-anchor="middle" font-family="Liberation Serif, DejaVu Serif, serif" font-weight="bold" font-size="10.2">-0.2</text>
<text x="522.5" y="452.3" text-anchor="middle" font-family="Liberation Serif, DejaVu Serif, serif" font-weight="bold" font-size="10.2">-0.3</text>
<text x="578.4" y="452.3" text-anchor="middle" font-family="Liberation Serif, DejaVu Serif, serif" font-weight="bold" font-size="10.2">-0.4</text>
<text x="634.4" y="452.3" text-anchor="middle" font-family="Liberation Serif, DejaVu Serif, serif" font-weight="bold" font-size="10.2">-0.5</text>
<text x="349.5" y="440.2" text-anchor="end" font-family="Liberation Serif, DejaVu Serif, serif" font-weight="bold" font-size="10.2">0</text>
<text x="349.5" y="406.1" text-anchor="end" font-family="Liberation Serif, DejaVu Serif, serif" font-weight="bold" font-size="10.2">-2</text>
<text x="349.5" y="372.1" text-anchor="end" font-family="Liberation Serif, DejaVu Serif, serif" font-weight="bold" font-size="10.2">-4</text>
<text x="349.5" y="338" text-anchor="end" font-family="Liberation Serif, DejaVu Serif, serif" font-weight="bold" font-size="10.2">-6</text>
<text x="349.5" y="304" text-anchor="end" font-family="Liberation Serif, DejaVu Serif, serif" font-weight="bold" font-size="10.2">-8</text>
<text x="349.5" y="269.9" text-anchor="end" font-family="Liberation Serif, DejaVu Serif, serif" font-weight="bold" font-size="10.2">-10</text>
<text x="349.5" y="235.9" text-anchor="end" font-family="Liberation Serif, DejaVu Serif, serif" font-weight="bold" font-size="10.2">-12</text>
</g><g id="curvesD">
<path d="M355.8,437.5 L383.78,436.51 L411.76,435.71 L439.74,435.17 L467.72,434.82 L495.7,434.59 L523.68,434.43 L551.66,434.35 L579.64,434.33 L607.62,434.35 L635.6,434.38" fill="none" stroke="#000" stroke-width="0.75" stroke-linejoin="round"/>
<path d="M355.8,437.5 L383.78,436.68 L411.76,435.98 L439.74,435.47 L467.72,435.12 L495.7,434.89 L523.68,434.73 L551.66,434.62 L579.64,434.54 L607.62,434.48 L635.6,434.44" fill="none" stroke="#000" stroke-width="0.75" stroke-linejoin="round"/>
<path d="M355.8,437.5 L383.78,436.84 L411.76,436.25 L439.74,435.77 L467.72,435.42 L495.7,435.19 L523.68,435.03 L551.66,434.89 L579.64,434.75 L607.62,434.62 L635.6,434.5" fill="none" stroke="#000" stroke-width="0.75" stroke-linejoin="round"/>
<path d="M355.8,437.5 L383.78,435.25 L411.76,433.4 L439.74,432.29 L467.72,431.68 L495.7,431.32 L523.68,431.11 L551.66,431.02 L579.64,431.02 L607.62,431.05 L635.6,431.1" fill="none" stroke="#000" stroke-width="0.75" stroke-linejoin="round"/>
<path d="M355.8,437.5 L383.78,435.53 L411.76,433.87 L439.74,432.81 L467.72,432.2 L495.7,431.84 L523.68,431.63 L551.66,431.49 L579.64,431.38 L607.62,431.29 L635.6,431.2" fill="none" stroke="#000" stroke-width="0.75" stroke-linejoin="round"/>
<path d="M355.8,437.5 L383.78,435.82 L411.76,434.34 L439.74,433.33 L467.72,432.72 L495.7,432.36 L523.68,432.15 L551.66,431.96 L579.64,431.75 L607.62,431.52 L635.6,431.3" fill="none" stroke="#000" stroke-width="0.75" stroke-linejoin="round"/>
<path d="M355.8,437.5 L383.78,433.8 L411.76,429.99 L439.74,427.76 L467.72,426.71 L495.7,426.23 L523.68,425.98 L551.66,425.88 L579.64,425.87 L607.62,425.91 L635.6,425.95" fill="none" stroke="#000" stroke-width="0.75" stroke-linejoin="round"/>
<path d="M355.8,437.5 L383.78,434.2 L411.76,430.66 L439.74,428.5 L467.72,427.45 L495.7,426.97 L523.68,426.72 L551.66,426.55 L579.64,426.39 L607.62,426.24 L635.6,426.09" fill="none" stroke="#000" stroke-width="0.75" stroke-linejoin="round"/>
<path d="M355.8,437.5 L383.78,434.61 L411.76,431.32 L439.74,429.24 L467.72,428.19 L495.7,427.71 L523.68,427.46 L551.66,427.22 L579.64,426.91 L607.62,426.57 L635.6,426.24" fill="none" stroke="#000" stroke-width="0.75" stroke-linejoin="round"/>
<path d="M355.8,437.5 L383.78,431.79 L411.76,425.6 L439.74,421.91 L467.72,420.19 L495.7,419.4 L523.68,418.95 L551.66,418.68 L579.64,418.55 L607.62,418.49 L635.6,418.41" fill="none" stroke="#000" stroke-width="0.75" stroke-linejoin="round"/>
<path d="M355.8,437.5 L383.78,432.32 L411.76,426.46 L439.74,422.87 L467.72,421.15 L495.7,420.36 L523.68,419.91 L551.66,419.55 L579.64,419.23 L607.62,418.92 L635.6,418.6" fill="none" stroke="#000" stroke-width="0.75" stroke-linejoin="round"/>
<path d="M355.8,437.5 L383.78,432.85 L411.76,427.33 L439.74,423.83 L467.72,422.11 L495.7,421.32 L523.68,420.87 L551.66,420.41 L579.64,419.9 L607.62,419.36 L635.6,418.79" fill="none" stroke="#000" stroke-width="0.75" stroke-linejoin="round"/>
<path d="M355.8,437.5 L383.78,429.59 L411.76,420.23 L439.74,414.32 L467.72,411.43 L495.7,410.1 L523.68,409.37 L551.66,408.94 L579.64,408.69 L607.62,408.52 L635.6,408.32" fill="none" stroke="#000" stroke-width="0.75" stroke-linejoin="round"/>
<path d="M355.8,437.5 L383.78,430.24 L411.76,421.29 L439.74,415.5 L467.72,412.61 L495.7,411.28 L523.68,410.55 L551.66,410 L579.64,409.51 L607.62,409.05 L635.6,408.56" fill="none" stroke="#000" stroke-width="0.75" stroke-linejoin="round"/>
<path d="M355.8,437.5 L383.78,430.88 L411.76,422.35 L439.74,416.68 L467.72,413.79 L495.7,412.46 L523.68,411.73 L551.66,411.07 L579.64,410.34 L607.62,409.58 L635.6,408.79" fill="none" stroke="#000" stroke-width="0.75" stroke-linejoin="round"/>
<path d="M355.8,437.5 L383.78,427.12 L411.76,413.55 L439.74,404.85 L467.72,400.74 L495.7,398.9 L523.68,397.81 L551.66,397.05 L579.64,396.45 L607.62,395.92 L635.6,395.38" fill="none" stroke="#000" stroke-width="0.75" stroke-linejoin="round"/>
<path d="M355.8,437.5 L383.78,427.78 L411.76,414.63 L439.74,406.05 L467.72,401.94 L495.7,400.1 L523.68,399.01 L551.66,398.13 L579.64,397.29 L607.62,396.46 L635.6,395.62" fill="none" stroke="#000" stroke-width="0.75" stroke-linejoin="round"/>
<path d="M355.8,437.5 L383.78,428.44 L411.76,415.71 L439.74,407.25 L467.72,403.14 L495.7,401.3 L523.68,400.21 L551.66,399.21 L579.64,398.13 L607.62,397 L635.6,395.86" fill="none" stroke="#000" stroke-width="0.75" stroke-linejoin="round"/>
<path d="M355.8,437.5 L383.78,423.39 L411.76,407.07 L439.74,395.72 L467.72,389.08 L495.7,385.41 L523.68,383.26 L551.66,381.86 L579.64,380.82 L607.62,379.9 L635.6,379.03" fill="none" stroke="#000" stroke-width="0.75" stroke-linejoin="round"/>
<path d="M355.8,437.5 L383.78,424.05 L411.76,408.15 L439.74,396.92 L467.72,390.28 L495.7,386.61 L523.68,384.46 L551.66,382.94 L579.64,381.66 L607.62,380.44 L635.6,379.27" fill="none" stroke="#000" stroke-width="0.75" stroke-linejoin="round"/>
<path d="M355.8,437.5 L383.78,424.71 L411.76,409.23 L439.74,398.12 L467.72,391.48 L495.7,387.81 L523.68,385.66 L551.66,384.02 L579.64,382.5 L607.62,380.98 L635.6,379.51" fill="none" stroke="#000" stroke-width="0.75" stroke-linejoin="round"/>
<path d="M355.8,437.5 L383.78,419.3 L411.76,399.46 L439.74,384.93 L467.72,375.45 L495.7,369.65 L523.68,365.89 L551.66,363.51 L579.64,361.71 L607.62,360.29 L635.6,358.94" fill="none" stroke="#000" stroke-width="0.75" stroke-linejoin="round"/>
<path d="M355.8,437.5 L383.78,419.96 L411.76,400.54 L439.74,386.13 L467.72,376.65 L495.7,370.85 L523.68,367.09 L551.66,364.59 L579.64,362.55 L607.62,360.83 L635.6,359.19" fill="none" stroke="#000" stroke-width="0.75" stroke-linejoin="round"/>
<path d="M355.8,437.5 L383.78,420.62 L411.76,401.62 L439.74,387.33 L467.72,377.85 L495.7,372.05 L523.68,368.29 L551.66,365.67 L579.64,363.39 L607.62,361.37 L635.6,359.43" fill="none" stroke="#000" stroke-width="0.75" stroke-linejoin="round"/>
<path d="M355.8,437.5 L383.78,415.08 L411.76,391.07 L439.74,372.66 L467.72,359.89 L495.7,351.52 L523.68,345.9 L551.66,342.03 L579.64,339.31 L607.62,337.06 L635.6,335.11" fill="none" stroke="#000" stroke-width="0.75" stroke-linejoin="round"/>
<path d="M355.8,437.5 L383.78,415.74 L411.76,392.15 L439.74,373.86 L467.72,361.09 L495.7,352.72 L523.68,347.1 L551.66,343.11 L579.64,340.15 L607.62,337.6 L635.6,335.35" fill="none" stroke="#000" stroke-width="0.75" stroke-linejoin="round"/>
<path d="M355.8,437.5 L383.78,416.4 L411.76,393.23 L439.74,375.06 L467.72,362.29 L495.7,353.92 L523.68,348.3 L551.66,344.19 L579.64,340.99 L607.62,338.14 L635.6,335.59" fill="none" stroke="#000" stroke-width="0.75" stroke-linejoin="round"/>
<path d="M355.8,437.5 L383.78,406.22 L411.76,381.22 L439.74,362.43 L467.72,346.01 L495.7,332.73 L523.68,322.87 L551.66,316.42 L579.64,310.62 L607.62,307.63 L635.6,305.83" fill="none" stroke="#000" stroke-width="0.75" stroke-linejoin="round"/>
<path d="M355.8,437.5 L383.78,406.88 L411.76,382.3 L439.74,363.63 L467.72,347.21 L495.7,333.93 L523.68,324.07 L551.66,317.5 L579.64,311.46 L607.62,308.17 L635.6,306.07" fill="none" stroke="#000" stroke-width="0.75" stroke-linejoin="round"/>
<path d="M355.8,437.5 L383.78,407.54 L411.76,383.38 L439.74,364.83 L467.72,348.41 L495.7,335.13 L523.68,325.27 L551.66,318.58 L579.64,312.3 L607.62,308.71 L635.6,306.31" fill="none" stroke="#000" stroke-width="0.75" stroke-linejoin="round"/>
<path d="M355.8,437.25 L383.78,395.54 L411.76,360.63 L439.74,333.72 L467.72,310.03 L495.7,291.59 L523.68,277.56 L551.66,266.74 L579.64,259.81 L607.62,252.83 L635.6,246.67" fill="none" stroke="#000" stroke-width="0.95" stroke-linejoin="round"/>
<path d="M355.8,437.5 L383.78,395.79 L411.76,360.89 L439.74,333.99 L467.72,310.32 L495.7,291.94 L523.68,277.98 L551.66,267.25 L579.64,260.44 L607.62,253.63 L635.6,247.67" fill="none" stroke="#000" stroke-width="0.95" stroke-linejoin="round"/>
<path d="M355.8,437.75 L383.78,396.04 L411.76,361.14 L439.74,334.26 L467.72,310.62 L495.7,292.28 L523.68,278.39 L551.66,267.76 L579.64,261.07 L607.62,254.43 L635.6,248.67" fill="none" stroke="#000" stroke-width="0.95" stroke-linejoin="round"/>
</g><g id="panelD2" filter="url(#bl2)">
<line x1="648.6" y1="246" x2="648.6" y2="435.5" stroke="#111" stroke-width="1.2"/>
<polygon points="648.6,241.5 650.9,249 646.3,249" fill="#111"/>
<text x="654.3" y="250.2" font-family="Liberation Serif, DejaVu Serif, serif" font-weight="bold" font-size="10.2" textLength="30" lengthAdjust="spacingAndGlyphs">- 0.5 V</text>
<text x="658.3" y="435.2" font-family="Liberation Serif, DejaVu Serif, serif" font-weight="bold" font-size="10.2" textLength="14.4" lengthAdjust="spacingAndGlyphs">0 V</text>
<text transform="translate(674.5,309.2) rotate(90) scale(1.08,1)" font-family="Liberation Sans, DejaVu Sans, sans-serif" font-weight="bold" font-size="12.7">V</text>
<text transform="translate(670.2,321.2) rotate(90)" font-family="Liberation Sans, DejaVu Sans, sans-serif" font-weight="bold" font-size="8.2">G</text>
<text transform="translate(674.3,331.8) rotate(90)" font-family="Liberation Sans, DejaVu Sans, sans-serif" font-weight="bold" font-size="13.2" textLength="23.6" lengthAdjust="spacing">(V)</text>
<text transform="translate(332.9,359.2) rotate(-90)" font-family="Liberation Serif, DejaVu Serif, serif" font-weight="bold" font-size="16">I</text>
<text transform="translate(339.8,353.5) rotate(-90)" font-family="Liberation Sans, DejaVu Sans, sans-serif" font-weight="bold" font-size="7.2">D</text>
<text transform="translate(332.9,343.9) rotate(-90)" font-family="Liberation Serif, DejaVu Serif, serif" font-weight="bold" font-size="15" textLength="30.5" lengthAdjust="spacing">(μA)</text>
<text x="476.8" y="471.2" font-family="Liberation Sans, DejaVu Sans, sans-serif" font-weight="bold" font-size="15.2">V</text>
<text x="487.6" y="476.9" font-family="Liberation Sans, DejaVu Sans, sans-serif" font-weight="bold" font-size="7.6">D</text>
<text x="498.1" y="471.2" font-family="Liberation Sans, DejaVu Sans, sans-serif" font-weight="bold" font-size="15.2">(V)</text>
</g>
</svg></body></html>
